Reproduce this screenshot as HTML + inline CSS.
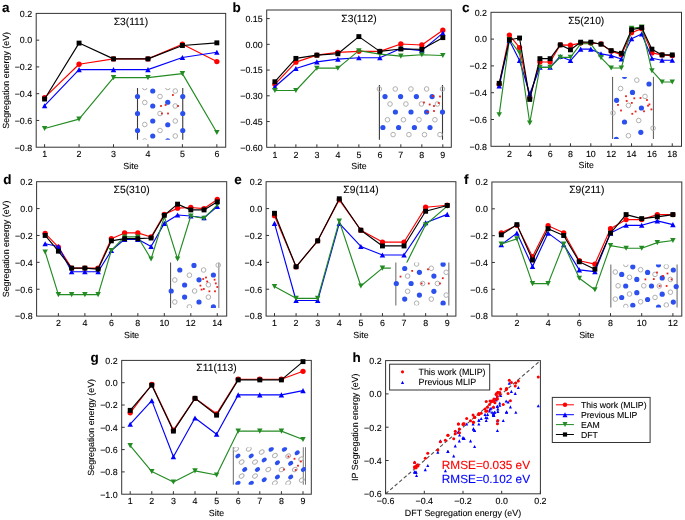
<!DOCTYPE html><html><head><meta charset="utf-8"><style>html,body{margin:0;padding:0;background:#fff;width:685px;height:520px;overflow:hidden;font-family:"Liberation Sans",sans-serif}</style></head><body><svg width="685" height="520" viewBox="0 0 685 520" style="position:absolute;left:0;top:0;will-change:transform" text-rendering="geometricPrecision" font-family='"Liberation Sans", sans-serif'>
<rect width="685" height="520" fill="#ffffff"/>
<text x="32.20" y="16.70" font-size="8.9" text-anchor="end" fill="#000" stroke="#000" stroke-width="0.1" font-weight="normal" >0.2</text>
<line x1="36.20" y1="40.16" x2="39.20" y2="40.16" stroke="#333333" stroke-width="1"/>
<text x="32.20" y="43.46" font-size="8.9" text-anchor="end" fill="#000" stroke="#000" stroke-width="0.1" font-weight="normal" >0.0</text>
<line x1="36.20" y1="66.92" x2="39.20" y2="66.92" stroke="#333333" stroke-width="1"/>
<text x="32.20" y="70.22" font-size="8.9" text-anchor="end" fill="#000" stroke="#000" stroke-width="0.1" font-weight="normal" >−0.2</text>
<line x1="36.20" y1="93.68" x2="39.20" y2="93.68" stroke="#333333" stroke-width="1"/>
<text x="32.20" y="96.98" font-size="8.9" text-anchor="end" fill="#000" stroke="#000" stroke-width="0.1" font-weight="normal" >−0.4</text>
<line x1="36.20" y1="120.44" x2="39.20" y2="120.44" stroke="#333333" stroke-width="1"/>
<text x="32.20" y="123.74" font-size="8.9" text-anchor="end" fill="#000" stroke="#000" stroke-width="0.1" font-weight="normal" >−0.6</text>
<text x="32.20" y="150.50" font-size="8.9" text-anchor="end" fill="#000" stroke="#000" stroke-width="0.1" font-weight="normal" >−0.8</text>
<line x1="44.60" y1="147.20" x2="44.60" y2="144.20" stroke="#333333" stroke-width="1"/>
<text x="44.60" y="157.40" font-size="8.9" text-anchor="middle" fill="#000" stroke="#000" stroke-width="0.1" font-weight="normal" >1</text>
<line x1="79.05" y1="147.20" x2="79.05" y2="144.20" stroke="#333333" stroke-width="1"/>
<text x="79.05" y="157.40" font-size="8.9" text-anchor="middle" fill="#000" stroke="#000" stroke-width="0.1" font-weight="normal" >2</text>
<line x1="113.50" y1="147.20" x2="113.50" y2="144.20" stroke="#333333" stroke-width="1"/>
<text x="113.50" y="157.40" font-size="8.9" text-anchor="middle" fill="#000" stroke="#000" stroke-width="0.1" font-weight="normal" >3</text>
<line x1="147.95" y1="147.20" x2="147.95" y2="144.20" stroke="#333333" stroke-width="1"/>
<text x="147.95" y="157.40" font-size="8.9" text-anchor="middle" fill="#000" stroke="#000" stroke-width="0.1" font-weight="normal" >4</text>
<line x1="182.40" y1="147.20" x2="182.40" y2="144.20" stroke="#333333" stroke-width="1"/>
<text x="182.40" y="157.40" font-size="8.9" text-anchor="middle" fill="#000" stroke="#000" stroke-width="0.1" font-weight="normal" >5</text>
<line x1="216.85" y1="147.20" x2="216.85" y2="144.20" stroke="#333333" stroke-width="1"/>
<text x="216.85" y="157.40" font-size="8.9" text-anchor="middle" fill="#000" stroke="#000" stroke-width="0.1" font-weight="normal" >6</text>
<rect x="36.20" y="13.40" width="189.50" height="133.80" fill="none" stroke="#333333" stroke-width="1"/>
<text x="130.95" y="24.60" font-size="10.3" text-anchor="middle" fill="#000" stroke="#000" stroke-width="0.1" font-weight="normal" >Σ3(111)</text>
<text x="8.90" y="80.30" font-size="8.9" stroke="#000" stroke-width="0.1" text-anchor="middle" transform="rotate(-90 8.90 80.30)">Segregation energy (eV)</text>
<text x="130.95" y="169.20" font-size="8.9" text-anchor="middle" fill="#000" stroke="#000" stroke-width="0.1" font-weight="normal" >Site</text>
<text x="2.00" y="12.20" font-size="13.5" text-anchor="start" fill="#000" stroke="#000" stroke-width="0.1" font-weight="bold" >a</text>
<polyline points="44.60,97.69 79.05,64.24 113.50,58.89 147.95,58.89 182.40,44.17 216.85,61.57" fill="none" stroke="#ff0000" stroke-width="1.15" stroke-linejoin="round"/>
<circle cx="44.60" cy="97.69" r="2.65" fill="#ff0000" stroke="none" stroke-width="0"/>
<circle cx="79.05" cy="64.24" r="2.65" fill="#ff0000" stroke="none" stroke-width="0"/>
<circle cx="113.50" cy="58.89" r="2.65" fill="#ff0000" stroke="none" stroke-width="0"/>
<circle cx="147.95" cy="58.89" r="2.65" fill="#ff0000" stroke="none" stroke-width="0"/>
<circle cx="182.40" cy="44.17" r="2.65" fill="#ff0000" stroke="none" stroke-width="0"/>
<circle cx="216.85" cy="61.57" r="2.65" fill="#ff0000" stroke="none" stroke-width="0"/>
<polyline points="44.60,105.72 79.05,69.60 113.50,69.60 147.95,69.60 182.40,57.55 216.85,52.20" fill="none" stroke="#0000ff" stroke-width="1.15" stroke-linejoin="round"/>
<polygon points="44.60,103.17 47.35,108.27 41.85,108.27" fill="#0000ff"/>
<polygon points="79.05,67.05 81.80,72.15 76.30,72.15" fill="#0000ff"/>
<polygon points="113.50,67.05 116.25,72.15 110.75,72.15" fill="#0000ff"/>
<polygon points="147.95,67.05 150.70,72.15 145.20,72.15" fill="#0000ff"/>
<polygon points="182.40,55.00 185.15,60.10 179.65,60.10" fill="#0000ff"/>
<polygon points="216.85,49.65 219.60,54.75 214.10,54.75" fill="#0000ff"/>
<polyline points="44.60,128.47 79.05,119.10 113.50,77.62 147.95,77.62 182.40,73.61 216.85,132.48" fill="none" stroke="#228b22" stroke-width="1.15" stroke-linejoin="round"/>
<polygon points="44.60,131.02 47.35,125.92 41.85,125.92" fill="#228b22"/>
<polygon points="79.05,121.65 81.80,116.55 76.30,116.55" fill="#228b22"/>
<polygon points="113.50,80.17 116.25,75.07 110.75,75.07" fill="#228b22"/>
<polygon points="147.95,80.17 150.70,75.07 145.20,75.07" fill="#228b22"/>
<polygon points="182.40,76.16 185.15,71.06 179.65,71.06" fill="#228b22"/>
<polygon points="216.85,135.03 219.60,129.93 214.10,129.93" fill="#228b22"/>
<polyline points="44.60,99.03 79.05,43.10 113.50,58.89 147.95,58.89 182.40,45.51 216.85,42.84" fill="none" stroke="#000000" stroke-width="1.15" stroke-linejoin="round"/>
<rect x="42.15" y="96.58" width="4.90" height="4.90" fill="#000000"/>
<rect x="76.60" y="40.65" width="4.90" height="4.90" fill="#000000"/>
<rect x="111.05" y="56.44" width="4.90" height="4.90" fill="#000000"/>
<rect x="145.50" y="56.44" width="4.90" height="4.90" fill="#000000"/>
<rect x="179.95" y="43.06" width="4.90" height="4.90" fill="#000000"/>
<rect x="214.40" y="40.39" width="4.90" height="4.90" fill="#000000"/>
<line x1="266.70" y1="18.58" x2="269.70" y2="18.58" stroke="#333333" stroke-width="1"/>
<text x="262.70" y="21.88" font-size="8.9" text-anchor="end" fill="#000" stroke="#000" stroke-width="0.1" font-weight="normal" >0.15</text>
<line x1="266.70" y1="44.33" x2="269.70" y2="44.33" stroke="#333333" stroke-width="1"/>
<text x="262.70" y="47.62" font-size="8.9" text-anchor="end" fill="#000" stroke="#000" stroke-width="0.1" font-weight="normal" >0.00</text>
<line x1="266.70" y1="70.07" x2="269.70" y2="70.07" stroke="#333333" stroke-width="1"/>
<text x="262.70" y="73.37" font-size="8.9" text-anchor="end" fill="#000" stroke="#000" stroke-width="0.1" font-weight="normal" >−0.15</text>
<line x1="266.70" y1="95.81" x2="269.70" y2="95.81" stroke="#333333" stroke-width="1"/>
<text x="262.70" y="99.11" font-size="8.9" text-anchor="end" fill="#000" stroke="#000" stroke-width="0.1" font-weight="normal" >−0.30</text>
<line x1="266.70" y1="121.56" x2="269.70" y2="121.56" stroke="#333333" stroke-width="1"/>
<text x="262.70" y="124.86" font-size="8.9" text-anchor="end" fill="#000" stroke="#000" stroke-width="0.1" font-weight="normal" >−0.45</text>
<text x="262.70" y="150.60" font-size="8.9" text-anchor="end" fill="#000" stroke="#000" stroke-width="0.1" font-weight="normal" >−0.60</text>
<line x1="274.90" y1="147.30" x2="274.90" y2="144.30" stroke="#333333" stroke-width="1"/>
<text x="274.90" y="157.50" font-size="8.9" text-anchor="middle" fill="#000" stroke="#000" stroke-width="0.1" font-weight="normal" >1</text>
<line x1="295.89" y1="147.30" x2="295.89" y2="144.30" stroke="#333333" stroke-width="1"/>
<text x="295.89" y="157.50" font-size="8.9" text-anchor="middle" fill="#000" stroke="#000" stroke-width="0.1" font-weight="normal" >2</text>
<line x1="316.88" y1="147.30" x2="316.88" y2="144.30" stroke="#333333" stroke-width="1"/>
<text x="316.88" y="157.50" font-size="8.9" text-anchor="middle" fill="#000" stroke="#000" stroke-width="0.1" font-weight="normal" >3</text>
<line x1="337.87" y1="147.30" x2="337.87" y2="144.30" stroke="#333333" stroke-width="1"/>
<text x="337.87" y="157.50" font-size="8.9" text-anchor="middle" fill="#000" stroke="#000" stroke-width="0.1" font-weight="normal" >4</text>
<line x1="358.86" y1="147.30" x2="358.86" y2="144.30" stroke="#333333" stroke-width="1"/>
<text x="358.86" y="157.50" font-size="8.9" text-anchor="middle" fill="#000" stroke="#000" stroke-width="0.1" font-weight="normal" >5</text>
<line x1="379.85" y1="147.30" x2="379.85" y2="144.30" stroke="#333333" stroke-width="1"/>
<text x="379.85" y="157.50" font-size="8.9" text-anchor="middle" fill="#000" stroke="#000" stroke-width="0.1" font-weight="normal" >6</text>
<line x1="400.84" y1="147.30" x2="400.84" y2="144.30" stroke="#333333" stroke-width="1"/>
<text x="400.84" y="157.50" font-size="8.9" text-anchor="middle" fill="#000" stroke="#000" stroke-width="0.1" font-weight="normal" >7</text>
<line x1="421.83" y1="147.30" x2="421.83" y2="144.30" stroke="#333333" stroke-width="1"/>
<text x="421.83" y="157.50" font-size="8.9" text-anchor="middle" fill="#000" stroke="#000" stroke-width="0.1" font-weight="normal" >8</text>
<line x1="442.82" y1="147.30" x2="442.82" y2="144.30" stroke="#333333" stroke-width="1"/>
<text x="442.82" y="157.50" font-size="8.9" text-anchor="middle" fill="#000" stroke="#000" stroke-width="0.1" font-weight="normal" >9</text>
<rect x="266.70" y="10.00" width="184.60" height="137.30" fill="none" stroke="#333333" stroke-width="1"/>
<text x="359.00" y="21.50" font-size="10.3" text-anchor="middle" fill="#000" stroke="#000" stroke-width="0.1" font-weight="normal" >Σ3(112)</text>
<text x="359.00" y="169.30" font-size="8.9" text-anchor="middle" fill="#000" stroke="#000" stroke-width="0.1" font-weight="normal" >Site</text>
<text x="232.60" y="11.90" font-size="13.5" text-anchor="start" fill="#000" stroke="#000" stroke-width="0.1" font-weight="bold" >b</text>
<polyline points="274.90,84.31 295.89,62.17 316.88,55.14 337.87,52.39 358.86,51.36 379.85,51.36 400.84,43.98 421.83,45.01 442.82,30.25" fill="none" stroke="#ff0000" stroke-width="1.15" stroke-linejoin="round"/>
<circle cx="274.90" cy="84.31" r="2.65" fill="#ff0000" stroke="none" stroke-width="0"/>
<circle cx="295.89" cy="62.17" r="2.65" fill="#ff0000" stroke="none" stroke-width="0"/>
<circle cx="316.88" cy="55.14" r="2.65" fill="#ff0000" stroke="none" stroke-width="0"/>
<circle cx="337.87" cy="52.39" r="2.65" fill="#ff0000" stroke="none" stroke-width="0"/>
<circle cx="358.86" cy="51.36" r="2.65" fill="#ff0000" stroke="none" stroke-width="0"/>
<circle cx="379.85" cy="51.36" r="2.65" fill="#ff0000" stroke="none" stroke-width="0"/>
<circle cx="400.84" cy="43.98" r="2.65" fill="#ff0000" stroke="none" stroke-width="0"/>
<circle cx="421.83" cy="45.01" r="2.65" fill="#ff0000" stroke="none" stroke-width="0"/>
<circle cx="442.82" cy="30.25" r="2.65" fill="#ff0000" stroke="none" stroke-width="0"/>
<polyline points="274.90,86.72 295.89,68.52 316.88,61.83 337.87,59.08 358.86,57.71 379.85,57.71 400.84,48.44 421.83,50.68 442.82,33.17" fill="none" stroke="#0000ff" stroke-width="1.15" stroke-linejoin="round"/>
<polygon points="274.90,84.17 277.65,89.27 272.15,89.27" fill="#0000ff"/>
<polygon points="295.89,65.97 298.64,71.07 293.14,71.07" fill="#0000ff"/>
<polygon points="316.88,59.28 319.63,64.38 314.13,64.38" fill="#0000ff"/>
<polygon points="337.87,56.53 340.62,61.63 335.12,61.63" fill="#0000ff"/>
<polygon points="358.86,55.16 361.61,60.26 356.11,60.26" fill="#0000ff"/>
<polygon points="379.85,55.16 382.60,60.26 377.10,60.26" fill="#0000ff"/>
<polygon points="400.84,45.89 403.59,50.99 398.09,50.99" fill="#0000ff"/>
<polygon points="421.83,48.13 424.58,53.23 419.08,53.23" fill="#0000ff"/>
<polygon points="442.82,30.62 445.57,35.72 440.07,35.72" fill="#0000ff"/>
<polyline points="274.90,90.49 295.89,90.49 316.88,68.18 337.87,68.18 358.86,50.68 379.85,54.11 400.84,56.17 421.83,54.79 442.82,55.48" fill="none" stroke="#228b22" stroke-width="1.15" stroke-linejoin="round"/>
<polygon points="274.90,93.04 277.65,87.94 272.15,87.94" fill="#228b22"/>
<polygon points="295.89,93.04 298.64,87.94 293.14,87.94" fill="#228b22"/>
<polygon points="316.88,70.73 319.63,65.63 314.13,65.63" fill="#228b22"/>
<polygon points="337.87,70.73 340.62,65.63 335.12,65.63" fill="#228b22"/>
<polygon points="358.86,53.23 361.61,48.13 356.11,48.13" fill="#228b22"/>
<polygon points="379.85,56.66 382.60,51.56 377.10,51.56" fill="#228b22"/>
<polygon points="400.84,58.72 403.59,53.62 398.09,53.62" fill="#228b22"/>
<polygon points="421.83,57.34 424.58,52.24 419.08,52.24" fill="#228b22"/>
<polygon points="442.82,58.03 445.57,52.93 440.07,52.93" fill="#228b22"/>
<polyline points="274.90,81.74 295.89,58.40 316.88,55.14 337.87,53.76 358.86,36.60 379.85,51.36 400.84,48.96 421.83,49.30 442.82,37.63" fill="none" stroke="#000000" stroke-width="1.15" stroke-linejoin="round"/>
<rect x="272.45" y="79.29" width="4.90" height="4.90" fill="#000000"/>
<rect x="293.44" y="55.95" width="4.90" height="4.90" fill="#000000"/>
<rect x="314.43" y="52.69" width="4.90" height="4.90" fill="#000000"/>
<rect x="335.42" y="51.31" width="4.90" height="4.90" fill="#000000"/>
<rect x="356.41" y="34.15" width="4.90" height="4.90" fill="#000000"/>
<rect x="377.40" y="48.91" width="4.90" height="4.90" fill="#000000"/>
<rect x="398.39" y="46.51" width="4.90" height="4.90" fill="#000000"/>
<rect x="419.38" y="46.85" width="4.90" height="4.90" fill="#000000"/>
<rect x="440.37" y="35.18" width="4.90" height="4.90" fill="#000000"/>
<text x="487.00" y="15.60" font-size="8.9" text-anchor="end" fill="#000" stroke="#000" stroke-width="0.1" font-weight="normal" >0.2</text>
<line x1="491.00" y1="39.10" x2="494.00" y2="39.10" stroke="#333333" stroke-width="1"/>
<text x="487.00" y="42.40" font-size="8.9" text-anchor="end" fill="#000" stroke="#000" stroke-width="0.1" font-weight="normal" >0.0</text>
<line x1="491.00" y1="65.90" x2="494.00" y2="65.90" stroke="#333333" stroke-width="1"/>
<text x="487.00" y="69.20" font-size="8.9" text-anchor="end" fill="#000" stroke="#000" stroke-width="0.1" font-weight="normal" >−0.2</text>
<line x1="491.00" y1="92.70" x2="494.00" y2="92.70" stroke="#333333" stroke-width="1"/>
<text x="487.00" y="96.00" font-size="8.9" text-anchor="end" fill="#000" stroke="#000" stroke-width="0.1" font-weight="normal" >−0.4</text>
<line x1="491.00" y1="119.50" x2="494.00" y2="119.50" stroke="#333333" stroke-width="1"/>
<text x="487.00" y="122.80" font-size="8.9" text-anchor="end" fill="#000" stroke="#000" stroke-width="0.1" font-weight="normal" >−0.6</text>
<text x="487.00" y="149.60" font-size="8.9" text-anchor="end" fill="#000" stroke="#000" stroke-width="0.1" font-weight="normal" >−0.8</text>
<line x1="509.38" y1="146.30" x2="509.38" y2="143.30" stroke="#333333" stroke-width="1"/>
<text x="509.38" y="156.50" font-size="8.9" text-anchor="middle" fill="#000" stroke="#000" stroke-width="0.1" font-weight="normal" >2</text>
<line x1="529.74" y1="146.30" x2="529.74" y2="143.30" stroke="#333333" stroke-width="1"/>
<text x="529.74" y="156.50" font-size="8.9" text-anchor="middle" fill="#000" stroke="#000" stroke-width="0.1" font-weight="normal" >4</text>
<line x1="550.10" y1="146.30" x2="550.10" y2="143.30" stroke="#333333" stroke-width="1"/>
<text x="550.10" y="156.50" font-size="8.9" text-anchor="middle" fill="#000" stroke="#000" stroke-width="0.1" font-weight="normal" >6</text>
<line x1="570.46" y1="146.30" x2="570.46" y2="143.30" stroke="#333333" stroke-width="1"/>
<text x="570.46" y="156.50" font-size="8.9" text-anchor="middle" fill="#000" stroke="#000" stroke-width="0.1" font-weight="normal" >8</text>
<line x1="590.82" y1="146.30" x2="590.82" y2="143.30" stroke="#333333" stroke-width="1"/>
<text x="590.82" y="156.50" font-size="8.9" text-anchor="middle" fill="#000" stroke="#000" stroke-width="0.1" font-weight="normal" >10</text>
<line x1="611.18" y1="146.30" x2="611.18" y2="143.30" stroke="#333333" stroke-width="1"/>
<text x="611.18" y="156.50" font-size="8.9" text-anchor="middle" fill="#000" stroke="#000" stroke-width="0.1" font-weight="normal" >12</text>
<line x1="631.54" y1="146.30" x2="631.54" y2="143.30" stroke="#333333" stroke-width="1"/>
<text x="631.54" y="156.50" font-size="8.9" text-anchor="middle" fill="#000" stroke="#000" stroke-width="0.1" font-weight="normal" >14</text>
<line x1="651.90" y1="146.30" x2="651.90" y2="143.30" stroke="#333333" stroke-width="1"/>
<text x="651.90" y="156.50" font-size="8.9" text-anchor="middle" fill="#000" stroke="#000" stroke-width="0.1" font-weight="normal" >16</text>
<line x1="672.26" y1="146.30" x2="672.26" y2="143.30" stroke="#333333" stroke-width="1"/>
<text x="672.26" y="156.50" font-size="8.9" text-anchor="middle" fill="#000" stroke="#000" stroke-width="0.1" font-weight="normal" >18</text>
<rect x="491.00" y="12.30" width="190.50" height="134.00" fill="none" stroke="#333333" stroke-width="1"/>
<text x="586.25" y="23.50" font-size="10.3" text-anchor="middle" fill="#000" stroke="#000" stroke-width="0.1" font-weight="normal" >Σ5(210)</text>
<text x="586.25" y="168.30" font-size="8.9" text-anchor="middle" fill="#000" stroke="#000" stroke-width="0.1" font-weight="normal" >Site</text>
<text x="462.00" y="11.90" font-size="13.5" text-anchor="start" fill="#000" stroke="#000" stroke-width="0.1" font-weight="bold" >c</text>
<polyline points="499.20,84.26 509.38,35.08 519.56,47.54 529.74,97.79 539.92,62.01 550.10,62.01 560.28,44.86 570.46,45.13 580.64,43.12 590.82,43.12 601.00,43.79 611.18,51.16 621.36,54.64 631.54,32.67 641.72,28.65 651.90,52.90 662.08,54.91 672.26,55.58" fill="none" stroke="#ff0000" stroke-width="1.15" stroke-linejoin="round"/>
<circle cx="499.20" cy="84.26" r="2.65" fill="#ff0000" stroke="none" stroke-width="0"/>
<circle cx="509.38" cy="35.08" r="2.65" fill="#ff0000" stroke="none" stroke-width="0"/>
<circle cx="519.56" cy="47.54" r="2.65" fill="#ff0000" stroke="none" stroke-width="0"/>
<circle cx="529.74" cy="97.79" r="2.65" fill="#ff0000" stroke="none" stroke-width="0"/>
<circle cx="539.92" cy="62.01" r="2.65" fill="#ff0000" stroke="none" stroke-width="0"/>
<circle cx="550.10" cy="62.01" r="2.65" fill="#ff0000" stroke="none" stroke-width="0"/>
<circle cx="560.28" cy="44.86" r="2.65" fill="#ff0000" stroke="none" stroke-width="0"/>
<circle cx="570.46" cy="45.13" r="2.65" fill="#ff0000" stroke="none" stroke-width="0"/>
<circle cx="580.64" cy="43.12" r="2.65" fill="#ff0000" stroke="none" stroke-width="0"/>
<circle cx="590.82" cy="43.12" r="2.65" fill="#ff0000" stroke="none" stroke-width="0"/>
<circle cx="601.00" cy="43.79" r="2.65" fill="#ff0000" stroke="none" stroke-width="0"/>
<circle cx="611.18" cy="51.16" r="2.65" fill="#ff0000" stroke="none" stroke-width="0"/>
<circle cx="621.36" cy="54.64" r="2.65" fill="#ff0000" stroke="none" stroke-width="0"/>
<circle cx="631.54" cy="32.67" r="2.65" fill="#ff0000" stroke="none" stroke-width="0"/>
<circle cx="641.72" cy="28.65" r="2.65" fill="#ff0000" stroke="none" stroke-width="0"/>
<circle cx="651.90" cy="52.90" r="2.65" fill="#ff0000" stroke="none" stroke-width="0"/>
<circle cx="662.08" cy="54.91" r="2.65" fill="#ff0000" stroke="none" stroke-width="0"/>
<circle cx="672.26" cy="55.58" r="2.65" fill="#ff0000" stroke="none" stroke-width="0"/>
<polyline points="499.20,86.00 509.38,40.44 519.56,60.54 529.74,94.04 539.92,67.24 550.10,67.24 560.28,56.52 570.46,60.54 580.64,49.15 590.82,49.15 601.00,53.84 611.18,55.58 621.36,58.93 631.54,38.70 641.72,34.01 651.90,58.26 662.08,60.27 672.26,60.27" fill="none" stroke="#0000ff" stroke-width="1.15" stroke-linejoin="round"/>
<polygon points="499.20,83.45 501.95,88.55 496.45,88.55" fill="#0000ff"/>
<polygon points="509.38,37.89 512.13,42.99 506.63,42.99" fill="#0000ff"/>
<polygon points="519.56,57.99 522.31,63.09 516.81,63.09" fill="#0000ff"/>
<polygon points="529.74,91.49 532.49,96.59 526.99,96.59" fill="#0000ff"/>
<polygon points="539.92,64.69 542.67,69.79 537.17,69.79" fill="#0000ff"/>
<polygon points="550.10,64.69 552.85,69.79 547.35,69.79" fill="#0000ff"/>
<polygon points="560.28,53.97 563.03,59.07 557.53,59.07" fill="#0000ff"/>
<polygon points="570.46,57.99 573.21,63.09 567.71,63.09" fill="#0000ff"/>
<polygon points="580.64,46.60 583.39,51.70 577.89,51.70" fill="#0000ff"/>
<polygon points="590.82,46.60 593.57,51.70 588.07,51.70" fill="#0000ff"/>
<polygon points="601.00,51.29 603.75,56.39 598.25,56.39" fill="#0000ff"/>
<polygon points="611.18,53.03 613.93,58.13 608.43,58.13" fill="#0000ff"/>
<polygon points="621.36,56.38 624.11,61.48 618.61,61.48" fill="#0000ff"/>
<polygon points="631.54,36.15 634.29,41.25 628.79,41.25" fill="#0000ff"/>
<polygon points="641.72,31.46 644.47,36.56 638.97,36.56" fill="#0000ff"/>
<polygon points="651.90,55.71 654.65,60.81 649.15,60.81" fill="#0000ff"/>
<polygon points="662.08,57.72 664.83,62.82 659.33,62.82" fill="#0000ff"/>
<polygon points="672.26,57.72 675.01,62.82 669.51,62.82" fill="#0000ff"/>
<polyline points="499.20,114.68 509.38,39.77 519.56,52.90 529.74,122.98 539.92,67.37 550.10,67.37 560.28,57.32 570.46,57.32 580.64,43.79 590.82,43.79 601.00,57.59 611.18,68.04 621.36,68.04 631.54,28.38 641.72,27.04 651.90,70.72 662.08,81.98 672.26,81.98" fill="none" stroke="#228b22" stroke-width="1.15" stroke-linejoin="round"/>
<polygon points="499.20,117.23 501.95,112.13 496.45,112.13" fill="#228b22"/>
<polygon points="509.38,42.32 512.13,37.22 506.63,37.22" fill="#228b22"/>
<polygon points="519.56,55.45 522.31,50.35 516.81,50.35" fill="#228b22"/>
<polygon points="529.74,125.53 532.49,120.43 526.99,120.43" fill="#228b22"/>
<polygon points="539.92,69.92 542.67,64.82 537.17,64.82" fill="#228b22"/>
<polygon points="550.10,69.92 552.85,64.82 547.35,64.82" fill="#228b22"/>
<polygon points="560.28,59.87 563.03,54.77 557.53,54.77" fill="#228b22"/>
<polygon points="570.46,59.87 573.21,54.77 567.71,54.77" fill="#228b22"/>
<polygon points="580.64,46.34 583.39,41.24 577.89,41.24" fill="#228b22"/>
<polygon points="590.82,46.34 593.57,41.24 588.07,41.24" fill="#228b22"/>
<polygon points="601.00,60.14 603.75,55.04 598.25,55.04" fill="#228b22"/>
<polygon points="611.18,70.59 613.93,65.49 608.43,65.49" fill="#228b22"/>
<polygon points="621.36,70.59 624.11,65.49 618.61,65.49" fill="#228b22"/>
<polygon points="631.54,30.93 634.29,25.83 628.79,25.83" fill="#228b22"/>
<polygon points="641.72,29.59 644.47,24.49 638.97,24.49" fill="#228b22"/>
<polygon points="651.90,73.27 654.65,68.17 649.15,68.17" fill="#228b22"/>
<polygon points="662.08,84.53 664.83,79.43 659.33,79.43" fill="#228b22"/>
<polygon points="672.26,84.53 675.01,79.43 669.51,79.43" fill="#228b22"/>
<polyline points="499.20,83.32 509.38,39.77 519.56,38.03 529.74,99.40 539.92,58.66 550.10,58.66 560.28,44.86 570.46,49.82 580.64,42.18 590.82,42.18 601.00,44.19 611.18,50.62 621.36,53.30 631.54,29.72 641.72,27.58 651.90,49.15 662.08,54.91 672.26,54.91" fill="none" stroke="#000000" stroke-width="1.15" stroke-linejoin="round"/>
<rect x="496.75" y="80.87" width="4.90" height="4.90" fill="#000000"/>
<rect x="506.93" y="37.32" width="4.90" height="4.90" fill="#000000"/>
<rect x="517.11" y="35.58" width="4.90" height="4.90" fill="#000000"/>
<rect x="527.29" y="96.95" width="4.90" height="4.90" fill="#000000"/>
<rect x="537.47" y="56.21" width="4.90" height="4.90" fill="#000000"/>
<rect x="547.65" y="56.21" width="4.90" height="4.90" fill="#000000"/>
<rect x="557.83" y="42.41" width="4.90" height="4.90" fill="#000000"/>
<rect x="568.01" y="47.37" width="4.90" height="4.90" fill="#000000"/>
<rect x="578.19" y="39.73" width="4.90" height="4.90" fill="#000000"/>
<rect x="588.37" y="39.73" width="4.90" height="4.90" fill="#000000"/>
<rect x="598.55" y="41.74" width="4.90" height="4.90" fill="#000000"/>
<rect x="608.73" y="48.17" width="4.90" height="4.90" fill="#000000"/>
<rect x="618.91" y="50.85" width="4.90" height="4.90" fill="#000000"/>
<rect x="629.09" y="27.27" width="4.90" height="4.90" fill="#000000"/>
<rect x="639.27" y="25.13" width="4.90" height="4.90" fill="#000000"/>
<rect x="649.45" y="46.70" width="4.90" height="4.90" fill="#000000"/>
<rect x="659.63" y="52.46" width="4.90" height="4.90" fill="#000000"/>
<rect x="669.81" y="52.46" width="4.90" height="4.90" fill="#000000"/>
<text x="32.60" y="185.00" font-size="8.9" text-anchor="end" fill="#000" stroke="#000" stroke-width="0.1" font-weight="normal" >0.2</text>
<line x1="36.60" y1="208.58" x2="39.60" y2="208.58" stroke="#333333" stroke-width="1"/>
<text x="32.60" y="211.88" font-size="8.9" text-anchor="end" fill="#000" stroke="#000" stroke-width="0.1" font-weight="normal" >0.0</text>
<line x1="36.60" y1="235.46" x2="39.60" y2="235.46" stroke="#333333" stroke-width="1"/>
<text x="32.60" y="238.76" font-size="8.9" text-anchor="end" fill="#000" stroke="#000" stroke-width="0.1" font-weight="normal" >−0.2</text>
<line x1="36.60" y1="262.34" x2="39.60" y2="262.34" stroke="#333333" stroke-width="1"/>
<text x="32.60" y="265.64" font-size="8.9" text-anchor="end" fill="#000" stroke="#000" stroke-width="0.1" font-weight="normal" >−0.4</text>
<line x1="36.60" y1="289.22" x2="39.60" y2="289.22" stroke="#333333" stroke-width="1"/>
<text x="32.60" y="292.52" font-size="8.9" text-anchor="end" fill="#000" stroke="#000" stroke-width="0.1" font-weight="normal" >−0.6</text>
<text x="32.60" y="319.40" font-size="8.9" text-anchor="end" fill="#000" stroke="#000" stroke-width="0.1" font-weight="normal" >−0.8</text>
<line x1="58.40" y1="316.10" x2="58.40" y2="313.10" stroke="#333333" stroke-width="1"/>
<text x="58.40" y="326.30" font-size="8.9" text-anchor="middle" fill="#000" stroke="#000" stroke-width="0.1" font-weight="normal" >2</text>
<line x1="84.88" y1="316.10" x2="84.88" y2="313.10" stroke="#333333" stroke-width="1"/>
<text x="84.88" y="326.30" font-size="8.9" text-anchor="middle" fill="#000" stroke="#000" stroke-width="0.1" font-weight="normal" >4</text>
<line x1="111.36" y1="316.10" x2="111.36" y2="313.10" stroke="#333333" stroke-width="1"/>
<text x="111.36" y="326.30" font-size="8.9" text-anchor="middle" fill="#000" stroke="#000" stroke-width="0.1" font-weight="normal" >6</text>
<line x1="137.84" y1="316.10" x2="137.84" y2="313.10" stroke="#333333" stroke-width="1"/>
<text x="137.84" y="326.30" font-size="8.9" text-anchor="middle" fill="#000" stroke="#000" stroke-width="0.1" font-weight="normal" >8</text>
<line x1="164.32" y1="316.10" x2="164.32" y2="313.10" stroke="#333333" stroke-width="1"/>
<text x="164.32" y="326.30" font-size="8.9" text-anchor="middle" fill="#000" stroke="#000" stroke-width="0.1" font-weight="normal" >10</text>
<line x1="190.80" y1="316.10" x2="190.80" y2="313.10" stroke="#333333" stroke-width="1"/>
<text x="190.80" y="326.30" font-size="8.9" text-anchor="middle" fill="#000" stroke="#000" stroke-width="0.1" font-weight="normal" >12</text>
<line x1="217.28" y1="316.10" x2="217.28" y2="313.10" stroke="#333333" stroke-width="1"/>
<text x="217.28" y="326.30" font-size="8.9" text-anchor="middle" fill="#000" stroke="#000" stroke-width="0.1" font-weight="normal" >14</text>
<rect x="36.60" y="181.70" width="190.10" height="134.40" fill="none" stroke="#333333" stroke-width="1"/>
<text x="131.65" y="193.00" font-size="10.3" text-anchor="middle" fill="#000" stroke="#000" stroke-width="0.1" font-weight="normal" >Σ5(310)</text>
<text x="8.90" y="248.90" font-size="8.9" stroke="#000" stroke-width="0.1" text-anchor="middle" transform="rotate(-90 8.90 248.90)">Segregation energy (eV)</text>
<text x="131.65" y="338.10" font-size="8.9" text-anchor="middle" fill="#000" stroke="#000" stroke-width="0.1" font-weight="normal" >Site</text>
<text x="3.30" y="183.80" font-size="13.5" text-anchor="start" fill="#000" stroke="#000" stroke-width="0.1" font-weight="bold" >d</text>
<polyline points="45.16,233.31 58.40,247.15 71.64,268.12 84.88,268.12 98.12,268.12 111.36,238.69 124.60,232.91 137.84,232.91 151.08,236.94 164.32,214.36 177.56,208.18 190.80,207.50 204.04,208.58 217.28,199.44" fill="none" stroke="#ff0000" stroke-width="1.15" stroke-linejoin="round"/>
<circle cx="45.16" cy="233.31" r="2.65" fill="#ff0000" stroke="none" stroke-width="0"/>
<circle cx="58.40" cy="247.15" r="2.65" fill="#ff0000" stroke="none" stroke-width="0"/>
<circle cx="71.64" cy="268.12" r="2.65" fill="#ff0000" stroke="none" stroke-width="0"/>
<circle cx="84.88" cy="268.12" r="2.65" fill="#ff0000" stroke="none" stroke-width="0"/>
<circle cx="98.12" cy="268.12" r="2.65" fill="#ff0000" stroke="none" stroke-width="0"/>
<circle cx="111.36" cy="238.69" r="2.65" fill="#ff0000" stroke="none" stroke-width="0"/>
<circle cx="124.60" cy="232.91" r="2.65" fill="#ff0000" stroke="none" stroke-width="0"/>
<circle cx="137.84" cy="232.91" r="2.65" fill="#ff0000" stroke="none" stroke-width="0"/>
<circle cx="151.08" cy="236.94" r="2.65" fill="#ff0000" stroke="none" stroke-width="0"/>
<circle cx="164.32" cy="214.36" r="2.65" fill="#ff0000" stroke="none" stroke-width="0"/>
<circle cx="177.56" cy="208.18" r="2.65" fill="#ff0000" stroke="none" stroke-width="0"/>
<circle cx="190.80" cy="207.50" r="2.65" fill="#ff0000" stroke="none" stroke-width="0"/>
<circle cx="204.04" cy="208.58" r="2.65" fill="#ff0000" stroke="none" stroke-width="0"/>
<circle cx="217.28" cy="199.44" r="2.65" fill="#ff0000" stroke="none" stroke-width="0"/>
<polyline points="45.16,243.79 58.40,246.48 71.64,271.75 84.88,271.75 98.12,271.75 111.36,250.51 124.60,239.36 137.84,239.36 151.08,246.48 164.32,223.36 177.56,215.03 190.80,215.97 204.04,217.72 217.28,206.56" fill="none" stroke="#0000ff" stroke-width="1.15" stroke-linejoin="round"/>
<polygon points="45.16,241.24 47.91,246.34 42.41,246.34" fill="#0000ff"/>
<polygon points="58.40,243.93 61.15,249.03 55.65,249.03" fill="#0000ff"/>
<polygon points="71.64,269.20 74.39,274.30 68.89,274.30" fill="#0000ff"/>
<polygon points="84.88,269.20 87.63,274.30 82.13,274.30" fill="#0000ff"/>
<polygon points="98.12,269.20 100.87,274.30 95.37,274.30" fill="#0000ff"/>
<polygon points="111.36,247.96 114.11,253.06 108.61,253.06" fill="#0000ff"/>
<polygon points="124.60,236.81 127.35,241.91 121.85,241.91" fill="#0000ff"/>
<polygon points="137.84,236.81 140.59,241.91 135.09,241.91" fill="#0000ff"/>
<polygon points="151.08,243.93 153.83,249.03 148.33,249.03" fill="#0000ff"/>
<polygon points="164.32,220.81 167.07,225.91 161.57,225.91" fill="#0000ff"/>
<polygon points="177.56,212.48 180.31,217.58 174.81,217.58" fill="#0000ff"/>
<polygon points="190.80,213.42 193.55,218.52 188.05,218.52" fill="#0000ff"/>
<polygon points="204.04,215.17 206.79,220.27 201.29,220.27" fill="#0000ff"/>
<polygon points="217.28,204.01 220.03,209.11 214.53,209.11" fill="#0000ff"/>
<polyline points="45.16,251.99 58.40,294.60 71.64,294.60 84.88,294.60 98.12,294.60 111.36,250.51 124.60,236.94 137.84,236.94 151.08,258.98 164.32,216.64 177.56,258.98 190.80,215.97 204.04,218.39 217.28,204.82" fill="none" stroke="#228b22" stroke-width="1.15" stroke-linejoin="round"/>
<polygon points="45.16,254.54 47.91,249.44 42.41,249.44" fill="#228b22"/>
<polygon points="58.40,297.15 61.15,292.05 55.65,292.05" fill="#228b22"/>
<polygon points="71.64,297.15 74.39,292.05 68.89,292.05" fill="#228b22"/>
<polygon points="84.88,297.15 87.63,292.05 82.13,292.05" fill="#228b22"/>
<polygon points="98.12,297.15 100.87,292.05 95.37,292.05" fill="#228b22"/>
<polygon points="111.36,253.06 114.11,247.96 108.61,247.96" fill="#228b22"/>
<polygon points="124.60,239.49 127.35,234.39 121.85,234.39" fill="#228b22"/>
<polygon points="137.84,239.49 140.59,234.39 135.09,234.39" fill="#228b22"/>
<polygon points="151.08,261.53 153.83,256.43 148.33,256.43" fill="#228b22"/>
<polygon points="164.32,219.19 167.07,214.09 161.57,214.09" fill="#228b22"/>
<polygon points="177.56,261.53 180.31,256.43 174.81,256.43" fill="#228b22"/>
<polygon points="190.80,218.52 193.55,213.42 188.05,213.42" fill="#228b22"/>
<polygon points="204.04,220.94 206.79,215.84 201.29,215.84" fill="#228b22"/>
<polygon points="217.28,207.37 220.03,202.27 214.53,202.27" fill="#228b22"/>
<polyline points="45.16,235.46 58.40,251.18 71.64,268.12 84.88,268.12 98.12,269.06 111.36,240.84 124.60,238.69 137.84,238.69 151.08,238.01 164.32,215.30 177.56,204.14 190.80,209.92 204.04,209.92 217.28,201.86" fill="none" stroke="#000000" stroke-width="1.15" stroke-linejoin="round"/>
<rect x="42.71" y="233.01" width="4.90" height="4.90" fill="#000000"/>
<rect x="55.95" y="248.73" width="4.90" height="4.90" fill="#000000"/>
<rect x="69.19" y="265.67" width="4.90" height="4.90" fill="#000000"/>
<rect x="82.43" y="265.67" width="4.90" height="4.90" fill="#000000"/>
<rect x="95.67" y="266.61" width="4.90" height="4.90" fill="#000000"/>
<rect x="108.91" y="238.39" width="4.90" height="4.90" fill="#000000"/>
<rect x="122.15" y="236.24" width="4.90" height="4.90" fill="#000000"/>
<rect x="135.39" y="236.24" width="4.90" height="4.90" fill="#000000"/>
<rect x="148.63" y="235.56" width="4.90" height="4.90" fill="#000000"/>
<rect x="161.87" y="212.85" width="4.90" height="4.90" fill="#000000"/>
<rect x="175.11" y="201.69" width="4.90" height="4.90" fill="#000000"/>
<rect x="188.35" y="207.47" width="4.90" height="4.90" fill="#000000"/>
<rect x="201.59" y="207.47" width="4.90" height="4.90" fill="#000000"/>
<rect x="214.83" y="199.41" width="4.90" height="4.90" fill="#000000"/>
<text x="262.10" y="185.00" font-size="8.9" text-anchor="end" fill="#000" stroke="#000" stroke-width="0.1" font-weight="normal" >0.2</text>
<line x1="266.10" y1="208.58" x2="269.10" y2="208.58" stroke="#333333" stroke-width="1"/>
<text x="262.10" y="211.88" font-size="8.9" text-anchor="end" fill="#000" stroke="#000" stroke-width="0.1" font-weight="normal" >0.0</text>
<line x1="266.10" y1="235.46" x2="269.10" y2="235.46" stroke="#333333" stroke-width="1"/>
<text x="262.10" y="238.76" font-size="8.9" text-anchor="end" fill="#000" stroke="#000" stroke-width="0.1" font-weight="normal" >−0.2</text>
<line x1="266.10" y1="262.34" x2="269.10" y2="262.34" stroke="#333333" stroke-width="1"/>
<text x="262.10" y="265.64" font-size="8.9" text-anchor="end" fill="#000" stroke="#000" stroke-width="0.1" font-weight="normal" >−0.4</text>
<line x1="266.10" y1="289.22" x2="269.10" y2="289.22" stroke="#333333" stroke-width="1"/>
<text x="262.10" y="292.52" font-size="8.9" text-anchor="end" fill="#000" stroke="#000" stroke-width="0.1" font-weight="normal" >−0.6</text>
<text x="262.10" y="319.40" font-size="8.9" text-anchor="end" fill="#000" stroke="#000" stroke-width="0.1" font-weight="normal" >−0.8</text>
<line x1="274.50" y1="316.10" x2="274.50" y2="313.10" stroke="#333333" stroke-width="1"/>
<text x="274.50" y="326.30" font-size="8.9" text-anchor="middle" fill="#000" stroke="#000" stroke-width="0.1" font-weight="normal" >1</text>
<line x1="296.09" y1="316.10" x2="296.09" y2="313.10" stroke="#333333" stroke-width="1"/>
<text x="296.09" y="326.30" font-size="8.9" text-anchor="middle" fill="#000" stroke="#000" stroke-width="0.1" font-weight="normal" >2</text>
<line x1="317.68" y1="316.10" x2="317.68" y2="313.10" stroke="#333333" stroke-width="1"/>
<text x="317.68" y="326.30" font-size="8.9" text-anchor="middle" fill="#000" stroke="#000" stroke-width="0.1" font-weight="normal" >3</text>
<line x1="339.27" y1="316.10" x2="339.27" y2="313.10" stroke="#333333" stroke-width="1"/>
<text x="339.27" y="326.30" font-size="8.9" text-anchor="middle" fill="#000" stroke="#000" stroke-width="0.1" font-weight="normal" >4</text>
<line x1="360.86" y1="316.10" x2="360.86" y2="313.10" stroke="#333333" stroke-width="1"/>
<text x="360.86" y="326.30" font-size="8.9" text-anchor="middle" fill="#000" stroke="#000" stroke-width="0.1" font-weight="normal" >5</text>
<line x1="382.45" y1="316.10" x2="382.45" y2="313.10" stroke="#333333" stroke-width="1"/>
<text x="382.45" y="326.30" font-size="8.9" text-anchor="middle" fill="#000" stroke="#000" stroke-width="0.1" font-weight="normal" >6</text>
<line x1="404.04" y1="316.10" x2="404.04" y2="313.10" stroke="#333333" stroke-width="1"/>
<text x="404.04" y="326.30" font-size="8.9" text-anchor="middle" fill="#000" stroke="#000" stroke-width="0.1" font-weight="normal" >7</text>
<line x1="425.63" y1="316.10" x2="425.63" y2="313.10" stroke="#333333" stroke-width="1"/>
<text x="425.63" y="326.30" font-size="8.9" text-anchor="middle" fill="#000" stroke="#000" stroke-width="0.1" font-weight="normal" >8</text>
<line x1="447.22" y1="316.10" x2="447.22" y2="313.10" stroke="#333333" stroke-width="1"/>
<text x="447.22" y="326.30" font-size="8.9" text-anchor="middle" fill="#000" stroke="#000" stroke-width="0.1" font-weight="normal" >9</text>
<rect x="266.10" y="181.70" width="189.80" height="134.40" fill="none" stroke="#333333" stroke-width="1"/>
<text x="361.00" y="193.00" font-size="10.3" text-anchor="middle" fill="#000" stroke="#000" stroke-width="0.1" font-weight="normal" >Σ9(114)</text>
<text x="361.00" y="338.10" font-size="8.9" text-anchor="middle" fill="#000" stroke="#000" stroke-width="0.1" font-weight="normal" >Site</text>
<text x="234.20" y="184.00" font-size="13.5" text-anchor="start" fill="#000" stroke="#000" stroke-width="0.1" font-weight="bold" >e</text>
<polyline points="274.50,215.70 296.09,266.78 317.68,240.84 339.27,199.84 360.86,230.22 382.45,242.05 404.04,242.05 425.63,207.24 447.22,205.22" fill="none" stroke="#ff0000" stroke-width="1.15" stroke-linejoin="round"/>
<circle cx="274.50" cy="215.70" r="2.65" fill="#ff0000" stroke="none" stroke-width="0"/>
<circle cx="296.09" cy="266.78" r="2.65" fill="#ff0000" stroke="none" stroke-width="0"/>
<circle cx="317.68" cy="240.84" r="2.65" fill="#ff0000" stroke="none" stroke-width="0"/>
<circle cx="339.27" cy="199.84" r="2.65" fill="#ff0000" stroke="none" stroke-width="0"/>
<circle cx="360.86" cy="230.22" r="2.65" fill="#ff0000" stroke="none" stroke-width="0"/>
<circle cx="382.45" cy="242.05" r="2.65" fill="#ff0000" stroke="none" stroke-width="0"/>
<circle cx="404.04" cy="242.05" r="2.65" fill="#ff0000" stroke="none" stroke-width="0"/>
<circle cx="425.63" cy="207.24" r="2.65" fill="#ff0000" stroke="none" stroke-width="0"/>
<circle cx="447.22" cy="205.22" r="2.65" fill="#ff0000" stroke="none" stroke-width="0"/>
<polyline points="274.50,223.36 296.09,300.51 317.68,300.51 339.27,223.36 360.86,246.48 382.45,254.95 404.04,254.95 425.63,222.69 447.22,214.36" fill="none" stroke="#0000ff" stroke-width="1.15" stroke-linejoin="round"/>
<polygon points="274.50,220.81 277.25,225.91 271.75,225.91" fill="#0000ff"/>
<polygon points="296.09,297.96 298.84,303.06 293.34,303.06" fill="#0000ff"/>
<polygon points="317.68,297.96 320.43,303.06 314.93,303.06" fill="#0000ff"/>
<polygon points="339.27,220.81 342.02,225.91 336.52,225.91" fill="#0000ff"/>
<polygon points="360.86,243.93 363.61,249.03 358.11,249.03" fill="#0000ff"/>
<polygon points="382.45,252.40 385.20,257.50 379.70,257.50" fill="#0000ff"/>
<polygon points="404.04,252.40 406.79,257.50 401.29,257.50" fill="#0000ff"/>
<polygon points="425.63,220.14 428.38,225.24 422.88,225.24" fill="#0000ff"/>
<polygon points="447.22,211.81 449.97,216.91 444.47,216.91" fill="#0000ff"/>
<polyline points="274.50,286.53 296.09,298.36 317.68,298.36 339.27,221.08 360.86,285.99 382.45,268.12 404.04,268.12 425.63,224.71 447.22,206.16" fill="none" stroke="#228b22" stroke-width="1.15" stroke-linejoin="round"/>
<polygon points="274.50,289.08 277.25,283.98 271.75,283.98" fill="#228b22"/>
<polygon points="296.09,300.91 298.84,295.81 293.34,295.81" fill="#228b22"/>
<polygon points="317.68,300.91 320.43,295.81 314.93,295.81" fill="#228b22"/>
<polygon points="339.27,223.63 342.02,218.53 336.52,218.53" fill="#228b22"/>
<polygon points="360.86,288.54 363.61,283.44 358.11,283.44" fill="#228b22"/>
<polygon points="382.45,270.67 385.20,265.57 379.70,265.57" fill="#228b22"/>
<polygon points="404.04,270.67 406.79,265.57 401.29,265.57" fill="#228b22"/>
<polygon points="425.63,227.26 428.38,222.16 422.88,222.16" fill="#228b22"/>
<polygon points="447.22,208.71 449.97,203.61 444.47,203.61" fill="#228b22"/>
<polyline points="274.50,213.28 296.09,266.78 317.68,240.84 339.27,198.77 360.86,230.22 382.45,245.94 404.04,245.94 425.63,211.27 447.22,205.49" fill="none" stroke="#000000" stroke-width="1.15" stroke-linejoin="round"/>
<rect x="272.05" y="210.83" width="4.90" height="4.90" fill="#000000"/>
<rect x="293.64" y="264.33" width="4.90" height="4.90" fill="#000000"/>
<rect x="315.23" y="238.39" width="4.90" height="4.90" fill="#000000"/>
<rect x="336.82" y="196.32" width="4.90" height="4.90" fill="#000000"/>
<rect x="358.41" y="227.77" width="4.90" height="4.90" fill="#000000"/>
<rect x="380.00" y="243.49" width="4.90" height="4.90" fill="#000000"/>
<rect x="401.59" y="243.49" width="4.90" height="4.90" fill="#000000"/>
<rect x="423.18" y="208.82" width="4.90" height="4.90" fill="#000000"/>
<rect x="444.77" y="203.04" width="4.90" height="4.90" fill="#000000"/>
<text x="487.90" y="185.30" font-size="8.9" text-anchor="end" fill="#000" stroke="#000" stroke-width="0.1" font-weight="normal" >0.2</text>
<line x1="491.90" y1="208.82" x2="494.90" y2="208.82" stroke="#333333" stroke-width="1"/>
<text x="487.90" y="212.12" font-size="8.9" text-anchor="end" fill="#000" stroke="#000" stroke-width="0.1" font-weight="normal" >0.0</text>
<line x1="491.90" y1="235.64" x2="494.90" y2="235.64" stroke="#333333" stroke-width="1"/>
<text x="487.90" y="238.94" font-size="8.9" text-anchor="end" fill="#000" stroke="#000" stroke-width="0.1" font-weight="normal" >−0.2</text>
<line x1="491.90" y1="262.46" x2="494.90" y2="262.46" stroke="#333333" stroke-width="1"/>
<text x="487.90" y="265.76" font-size="8.9" text-anchor="end" fill="#000" stroke="#000" stroke-width="0.1" font-weight="normal" >−0.4</text>
<line x1="491.90" y1="289.28" x2="494.90" y2="289.28" stroke="#333333" stroke-width="1"/>
<text x="487.90" y="292.58" font-size="8.9" text-anchor="end" fill="#000" stroke="#000" stroke-width="0.1" font-weight="normal" >−0.6</text>
<text x="487.90" y="319.40" font-size="8.9" text-anchor="end" fill="#000" stroke="#000" stroke-width="0.1" font-weight="normal" >−0.8</text>
<line x1="516.90" y1="316.10" x2="516.90" y2="313.10" stroke="#333333" stroke-width="1"/>
<text x="516.90" y="326.30" font-size="8.9" text-anchor="middle" fill="#000" stroke="#000" stroke-width="0.1" font-weight="normal" >2</text>
<line x1="548.10" y1="316.10" x2="548.10" y2="313.10" stroke="#333333" stroke-width="1"/>
<text x="548.10" y="326.30" font-size="8.9" text-anchor="middle" fill="#000" stroke="#000" stroke-width="0.1" font-weight="normal" >4</text>
<line x1="579.30" y1="316.10" x2="579.30" y2="313.10" stroke="#333333" stroke-width="1"/>
<text x="579.30" y="326.30" font-size="8.9" text-anchor="middle" fill="#000" stroke="#000" stroke-width="0.1" font-weight="normal" >6</text>
<line x1="610.50" y1="316.10" x2="610.50" y2="313.10" stroke="#333333" stroke-width="1"/>
<text x="610.50" y="326.30" font-size="8.9" text-anchor="middle" fill="#000" stroke="#000" stroke-width="0.1" font-weight="normal" >8</text>
<line x1="641.70" y1="316.10" x2="641.70" y2="313.10" stroke="#333333" stroke-width="1"/>
<text x="641.70" y="326.30" font-size="8.9" text-anchor="middle" fill="#000" stroke="#000" stroke-width="0.1" font-weight="normal" >10</text>
<line x1="672.90" y1="316.10" x2="672.90" y2="313.10" stroke="#333333" stroke-width="1"/>
<text x="672.90" y="326.30" font-size="8.9" text-anchor="middle" fill="#000" stroke="#000" stroke-width="0.1" font-weight="normal" >12</text>
<rect x="491.90" y="182.00" width="189.90" height="134.10" fill="none" stroke="#333333" stroke-width="1"/>
<text x="586.85" y="193.00" font-size="10.3" text-anchor="middle" fill="#000" stroke="#000" stroke-width="0.1" font-weight="normal" >Σ9(211)</text>
<text x="586.85" y="338.10" font-size="8.9" text-anchor="middle" fill="#000" stroke="#000" stroke-width="0.1" font-weight="normal" >Site</text>
<text x="464.00" y="184.00" font-size="13.5" text-anchor="start" fill="#000" stroke="#000" stroke-width="0.1" font-weight="bold" >f</text>
<polyline points="501.30,232.82 516.90,225.31 532.50,256.69 548.10,225.72 563.70,232.82 579.30,260.72 594.90,264.07 610.50,228.67 626.10,219.55 641.70,219.55 657.30,214.59 672.90,214.59" fill="none" stroke="#ff0000" stroke-width="1.15" stroke-linejoin="round"/>
<circle cx="501.30" cy="232.82" r="2.65" fill="#ff0000" stroke="none" stroke-width="0"/>
<circle cx="516.90" cy="225.31" r="2.65" fill="#ff0000" stroke="none" stroke-width="0"/>
<circle cx="532.50" cy="256.69" r="2.65" fill="#ff0000" stroke="none" stroke-width="0"/>
<circle cx="548.10" cy="225.72" r="2.65" fill="#ff0000" stroke="none" stroke-width="0"/>
<circle cx="563.70" cy="232.82" r="2.65" fill="#ff0000" stroke="none" stroke-width="0"/>
<circle cx="579.30" cy="260.72" r="2.65" fill="#ff0000" stroke="none" stroke-width="0"/>
<circle cx="594.90" cy="264.07" r="2.65" fill="#ff0000" stroke="none" stroke-width="0"/>
<circle cx="610.50" cy="228.67" r="2.65" fill="#ff0000" stroke="none" stroke-width="0"/>
<circle cx="626.10" cy="219.55" r="2.65" fill="#ff0000" stroke="none" stroke-width="0"/>
<circle cx="641.70" cy="219.55" r="2.65" fill="#ff0000" stroke="none" stroke-width="0"/>
<circle cx="657.30" cy="214.59" r="2.65" fill="#ff0000" stroke="none" stroke-width="0"/>
<circle cx="672.90" cy="214.59" r="2.65" fill="#ff0000" stroke="none" stroke-width="0"/>
<polyline points="501.30,244.62 516.90,233.09 532.50,266.48 548.10,233.09 563.70,244.62 579.30,269.84 594.90,271.58 610.50,233.09 626.10,225.31 641.70,225.31 657.30,220.89 672.90,224.64" fill="none" stroke="#0000ff" stroke-width="1.15" stroke-linejoin="round"/>
<polygon points="501.30,242.07 504.05,247.17 498.55,247.17" fill="#0000ff"/>
<polygon points="516.90,230.54 519.65,235.64 514.15,235.64" fill="#0000ff"/>
<polygon points="532.50,263.93 535.25,269.03 529.75,269.03" fill="#0000ff"/>
<polygon points="548.10,230.54 550.85,235.64 545.35,235.64" fill="#0000ff"/>
<polygon points="563.70,242.07 566.45,247.17 560.95,247.17" fill="#0000ff"/>
<polygon points="579.30,267.29 582.05,272.39 576.55,272.39" fill="#0000ff"/>
<polygon points="594.90,269.03 597.65,274.13 592.15,274.13" fill="#0000ff"/>
<polygon points="610.50,230.54 613.25,235.64 607.75,235.64" fill="#0000ff"/>
<polygon points="626.10,222.76 628.85,227.86 623.35,227.86" fill="#0000ff"/>
<polygon points="641.70,222.76 644.45,227.86 638.95,227.86" fill="#0000ff"/>
<polygon points="657.30,218.34 660.05,223.44 654.55,223.44" fill="#0000ff"/>
<polygon points="672.90,222.09 675.65,227.19 670.15,227.19" fill="#0000ff"/>
<polyline points="501.30,243.95 516.90,238.86 532.50,283.65 548.10,283.65 563.70,243.95 579.30,278.28 594.90,289.82 610.50,245.56 626.10,248.25 641.70,248.25 657.30,242.61 672.90,240.47" fill="none" stroke="#228b22" stroke-width="1.15" stroke-linejoin="round"/>
<polygon points="501.30,246.50 504.05,241.40 498.55,241.40" fill="#228b22"/>
<polygon points="516.90,241.41 519.65,236.31 514.15,236.31" fill="#228b22"/>
<polygon points="532.50,286.20 535.25,281.10 529.75,281.10" fill="#228b22"/>
<polygon points="548.10,286.20 550.85,281.10 545.35,281.10" fill="#228b22"/>
<polygon points="563.70,246.50 566.45,241.40 560.95,241.40" fill="#228b22"/>
<polygon points="579.30,280.83 582.05,275.73 576.55,275.73" fill="#228b22"/>
<polygon points="594.90,292.37 597.65,287.27 592.15,287.27" fill="#228b22"/>
<polygon points="610.50,248.11 613.25,243.01 607.75,243.01" fill="#228b22"/>
<polygon points="626.10,250.80 628.85,245.70 623.35,245.70" fill="#228b22"/>
<polygon points="641.70,250.80 644.45,245.70 638.95,245.70" fill="#228b22"/>
<polygon points="657.30,245.16 660.05,240.06 654.55,240.06" fill="#228b22"/>
<polygon points="672.90,243.02 675.65,237.92 670.15,237.92" fill="#228b22"/>
<polyline points="501.30,234.84 516.90,224.64 532.50,260.05 548.10,228.67 563.70,235.51 579.30,261.79 594.90,269.17 610.50,233.09 626.10,214.59 641.70,218.61 657.30,216.87 672.90,214.59" fill="none" stroke="#000000" stroke-width="1.15" stroke-linejoin="round"/>
<rect x="498.85" y="232.39" width="4.90" height="4.90" fill="#000000"/>
<rect x="514.45" y="222.19" width="4.90" height="4.90" fill="#000000"/>
<rect x="530.05" y="257.60" width="4.90" height="4.90" fill="#000000"/>
<rect x="545.65" y="226.22" width="4.90" height="4.90" fill="#000000"/>
<rect x="561.25" y="233.06" width="4.90" height="4.90" fill="#000000"/>
<rect x="576.85" y="259.34" width="4.90" height="4.90" fill="#000000"/>
<rect x="592.45" y="266.72" width="4.90" height="4.90" fill="#000000"/>
<rect x="608.05" y="230.64" width="4.90" height="4.90" fill="#000000"/>
<rect x="623.65" y="212.14" width="4.90" height="4.90" fill="#000000"/>
<rect x="639.25" y="216.16" width="4.90" height="4.90" fill="#000000"/>
<rect x="654.85" y="214.42" width="4.90" height="4.90" fill="#000000"/>
<rect x="670.45" y="212.14" width="4.90" height="4.90" fill="#000000"/>
<text x="117.70" y="363.70" font-size="8.9" text-anchor="end" fill="#000" stroke="#000" stroke-width="0.1" font-weight="normal" >0.2</text>
<line x1="121.70" y1="382.70" x2="124.70" y2="382.70" stroke="#333333" stroke-width="1"/>
<text x="117.70" y="386.00" font-size="8.9" text-anchor="end" fill="#000" stroke="#000" stroke-width="0.1" font-weight="normal" >0.0</text>
<line x1="121.70" y1="405.00" x2="124.70" y2="405.00" stroke="#333333" stroke-width="1"/>
<text x="117.70" y="408.30" font-size="8.9" text-anchor="end" fill="#000" stroke="#000" stroke-width="0.1" font-weight="normal" >−0.2</text>
<line x1="121.70" y1="427.30" x2="124.70" y2="427.30" stroke="#333333" stroke-width="1"/>
<text x="117.70" y="430.60" font-size="8.9" text-anchor="end" fill="#000" stroke="#000" stroke-width="0.1" font-weight="normal" >−0.4</text>
<line x1="121.70" y1="449.60" x2="124.70" y2="449.60" stroke="#333333" stroke-width="1"/>
<text x="117.70" y="452.90" font-size="8.9" text-anchor="end" fill="#000" stroke="#000" stroke-width="0.1" font-weight="normal" >−0.6</text>
<line x1="121.70" y1="471.90" x2="124.70" y2="471.90" stroke="#333333" stroke-width="1"/>
<text x="117.70" y="475.20" font-size="8.9" text-anchor="end" fill="#000" stroke="#000" stroke-width="0.1" font-weight="normal" >−0.8</text>
<text x="117.70" y="497.50" font-size="8.9" text-anchor="end" fill="#000" stroke="#000" stroke-width="0.1" font-weight="normal" >−1.0</text>
<line x1="130.20" y1="494.20" x2="130.20" y2="491.20" stroke="#333333" stroke-width="1"/>
<text x="130.20" y="504.40" font-size="8.9" text-anchor="middle" fill="#000" stroke="#000" stroke-width="0.1" font-weight="normal" >1</text>
<line x1="151.80" y1="494.20" x2="151.80" y2="491.20" stroke="#333333" stroke-width="1"/>
<text x="151.80" y="504.40" font-size="8.9" text-anchor="middle" fill="#000" stroke="#000" stroke-width="0.1" font-weight="normal" >2</text>
<line x1="173.40" y1="494.20" x2="173.40" y2="491.20" stroke="#333333" stroke-width="1"/>
<text x="173.40" y="504.40" font-size="8.9" text-anchor="middle" fill="#000" stroke="#000" stroke-width="0.1" font-weight="normal" >3</text>
<line x1="195.00" y1="494.20" x2="195.00" y2="491.20" stroke="#333333" stroke-width="1"/>
<text x="195.00" y="504.40" font-size="8.9" text-anchor="middle" fill="#000" stroke="#000" stroke-width="0.1" font-weight="normal" >4</text>
<line x1="216.60" y1="494.20" x2="216.60" y2="491.20" stroke="#333333" stroke-width="1"/>
<text x="216.60" y="504.40" font-size="8.9" text-anchor="middle" fill="#000" stroke="#000" stroke-width="0.1" font-weight="normal" >5</text>
<line x1="238.20" y1="494.20" x2="238.20" y2="491.20" stroke="#333333" stroke-width="1"/>
<text x="238.20" y="504.40" font-size="8.9" text-anchor="middle" fill="#000" stroke="#000" stroke-width="0.1" font-weight="normal" >6</text>
<line x1="259.80" y1="494.20" x2="259.80" y2="491.20" stroke="#333333" stroke-width="1"/>
<text x="259.80" y="504.40" font-size="8.9" text-anchor="middle" fill="#000" stroke="#000" stroke-width="0.1" font-weight="normal" >7</text>
<line x1="281.40" y1="494.20" x2="281.40" y2="491.20" stroke="#333333" stroke-width="1"/>
<text x="281.40" y="504.40" font-size="8.9" text-anchor="middle" fill="#000" stroke="#000" stroke-width="0.1" font-weight="normal" >8</text>
<line x1="303.00" y1="494.20" x2="303.00" y2="491.20" stroke="#333333" stroke-width="1"/>
<text x="303.00" y="504.40" font-size="8.9" text-anchor="middle" fill="#000" stroke="#000" stroke-width="0.1" font-weight="normal" >9</text>
<rect x="121.70" y="360.40" width="189.60" height="133.80" fill="none" stroke="#333333" stroke-width="1"/>
<text x="216.50" y="371.00" font-size="10.3" text-anchor="middle" fill="#000" stroke="#000" stroke-width="0.1" font-weight="normal" >Σ11(113)</text>
<text x="94.00" y="427.30" font-size="8.9" stroke="#000" stroke-width="0.1" text-anchor="middle" transform="rotate(-90 94.00 427.30)">Segregation energy (eV)</text>
<text x="216.50" y="516.20" font-size="8.9" text-anchor="middle" fill="#000" stroke="#000" stroke-width="0.1" font-weight="normal" >Site</text>
<text x="90.50" y="362.30" font-size="13.5" text-anchor="start" fill="#000" stroke="#000" stroke-width="0.1" font-weight="bold" >g</text>
<polyline points="130.20,412.81 151.80,384.48 173.40,430.09 195.00,398.31 216.60,413.81 238.20,379.24 259.80,379.24 281.40,379.24 303.00,371.33" fill="none" stroke="#ff0000" stroke-width="1.15" stroke-linejoin="round"/>
<circle cx="130.20" cy="412.81" r="2.65" fill="#ff0000" stroke="none" stroke-width="0"/>
<circle cx="151.80" cy="384.48" r="2.65" fill="#ff0000" stroke="none" stroke-width="0"/>
<circle cx="173.40" cy="430.09" r="2.65" fill="#ff0000" stroke="none" stroke-width="0"/>
<circle cx="195.00" cy="398.31" r="2.65" fill="#ff0000" stroke="none" stroke-width="0"/>
<circle cx="216.60" cy="413.81" r="2.65" fill="#ff0000" stroke="none" stroke-width="0"/>
<circle cx="238.20" cy="379.24" r="2.65" fill="#ff0000" stroke="none" stroke-width="0"/>
<circle cx="259.80" cy="379.24" r="2.65" fill="#ff0000" stroke="none" stroke-width="0"/>
<circle cx="281.40" cy="379.24" r="2.65" fill="#ff0000" stroke="none" stroke-width="0"/>
<circle cx="303.00" cy="371.33" r="2.65" fill="#ff0000" stroke="none" stroke-width="0"/>
<polyline points="130.20,424.18 151.80,400.65 173.40,456.74 195.00,417.93 216.60,434.21 238.20,394.85 259.80,394.85 281.40,394.85 303.00,390.62" fill="none" stroke="#0000ff" stroke-width="1.15" stroke-linejoin="round"/>
<polygon points="130.20,421.63 132.95,426.73 127.45,426.73" fill="#0000ff"/>
<polygon points="151.80,398.10 154.55,403.20 149.05,403.20" fill="#0000ff"/>
<polygon points="173.40,454.19 176.15,459.29 170.65,459.29" fill="#0000ff"/>
<polygon points="195.00,415.38 197.75,420.48 192.25,420.48" fill="#0000ff"/>
<polygon points="216.60,431.66 219.35,436.76 213.85,436.76" fill="#0000ff"/>
<polygon points="238.20,392.30 240.95,397.40 235.45,397.40" fill="#0000ff"/>
<polygon points="259.80,392.30 262.55,397.40 257.05,397.40" fill="#0000ff"/>
<polygon points="281.40,392.30 284.15,397.40 278.65,397.40" fill="#0000ff"/>
<polygon points="303.00,388.07 305.75,393.17 300.25,393.17" fill="#0000ff"/>
<polyline points="130.20,445.59 151.80,471.57 173.40,481.94 195.00,470.90 216.60,475.02 238.20,431.09 259.80,431.09 281.40,431.09 303.00,439.45" fill="none" stroke="#228b22" stroke-width="1.15" stroke-linejoin="round"/>
<polygon points="130.20,448.14 132.95,443.04 127.45,443.04" fill="#228b22"/>
<polygon points="151.80,474.12 154.55,469.02 149.05,469.02" fill="#228b22"/>
<polygon points="173.40,484.49 176.15,479.38 170.65,479.38" fill="#228b22"/>
<polygon points="195.00,473.45 197.75,468.35 192.25,468.35" fill="#228b22"/>
<polygon points="216.60,477.57 219.35,472.47 213.85,472.47" fill="#228b22"/>
<polygon points="238.20,433.64 240.95,428.54 235.45,428.54" fill="#228b22"/>
<polygon points="259.80,433.64 262.55,428.54 257.05,428.54" fill="#228b22"/>
<polygon points="281.40,433.64 284.15,428.54 278.65,428.54" fill="#228b22"/>
<polygon points="303.00,442.00 305.75,436.90 300.25,436.90" fill="#228b22"/>
<polyline points="130.20,410.35 151.80,385.15 173.40,431.09 195.00,398.31 216.60,415.15 238.20,379.91 259.80,379.91 281.40,379.91 303.00,361.63" fill="none" stroke="#000000" stroke-width="1.15" stroke-linejoin="round"/>
<rect x="127.75" y="407.90" width="4.90" height="4.90" fill="#000000"/>
<rect x="149.35" y="382.70" width="4.90" height="4.90" fill="#000000"/>
<rect x="170.95" y="428.64" width="4.90" height="4.90" fill="#000000"/>
<rect x="192.55" y="395.86" width="4.90" height="4.90" fill="#000000"/>
<rect x="214.15" y="412.70" width="4.90" height="4.90" fill="#000000"/>
<rect x="235.75" y="377.46" width="4.90" height="4.90" fill="#000000"/>
<rect x="257.35" y="377.46" width="4.90" height="4.90" fill="#000000"/>
<rect x="278.95" y="377.46" width="4.90" height="4.90" fill="#000000"/>
<rect x="300.55" y="359.18" width="4.90" height="4.90" fill="#000000"/>
<line x1="385.60" y1="493.80" x2="540.40" y2="360.60" stroke="#505050" stroke-width="1.1" stroke-dasharray="3.7,2.3"/>
<clipPath id="clh"><rect x="385.60" y="360.60" width="154.80" height="133.20"/></clipPath><g clip-path="url(#clh)">
<polygon points="416.56,473.94 418.11,477.04 415.01,477.04" fill="#0000ff"/>
<polygon points="497.44,428.98 498.99,432.08 495.89,432.08" fill="#0000ff"/>
<polygon points="474.61,428.98 476.16,432.08 473.06,432.08" fill="#0000ff"/>
<polygon points="474.61,428.98 476.16,432.08 473.06,432.08" fill="#0000ff"/>
<polygon points="493.96,414.00 495.51,417.10 492.41,417.10" fill="#0000ff"/>
<polygon points="497.83,407.34 499.38,410.44 496.28,410.44" fill="#0000ff"/>
<polygon points="459.52,433.48 461.07,436.58 457.97,436.58" fill="#0000ff"/>
<polygon points="485.83,415.83 487.38,418.93 484.28,418.93" fill="#0000ff"/>
<polygon points="489.51,409.33 491.06,412.43 487.96,412.43" fill="#0000ff"/>
<polygon points="491.06,406.67 492.61,409.77 489.51,409.77" fill="#0000ff"/>
<polygon points="510.41,405.34 511.96,408.44 508.86,408.44" fill="#0000ff"/>
<polygon points="493.77,405.34 495.32,408.44 492.22,408.44" fill="#0000ff"/>
<polygon points="496.48,396.35 498.03,399.45 494.93,399.45" fill="#0000ff"/>
<polygon points="496.09,398.51 497.64,401.61 494.54,401.61" fill="#0000ff"/>
<polygon points="509.25,381.53 510.80,384.63 507.70,384.63" fill="#0000ff"/>
<polygon points="437.84,450.62 439.39,453.73 436.29,453.73" fill="#0000ff"/>
<polygon points="500.73,394.01 502.28,397.12 499.18,397.12" fill="#0000ff"/>
<polygon points="503.25,418.99 504.80,422.09 501.70,422.09" fill="#0000ff"/>
<polygon points="414.62,460.62 416.18,463.72 413.07,463.72" fill="#0000ff"/>
<polygon points="473.45,427.31 475.00,430.42 471.90,430.42" fill="#0000ff"/>
<polygon points="473.45,427.31 475.00,430.42 471.90,430.42" fill="#0000ff"/>
<polygon points="493.38,414.00 494.93,417.10 491.83,417.10" fill="#0000ff"/>
<polygon points="486.22,418.99 487.77,422.09 484.67,422.09" fill="#0000ff"/>
<polygon points="497.25,404.84 498.80,407.94 495.70,407.94" fill="#0000ff"/>
<polygon points="497.25,404.84 498.80,407.94 495.70,407.94" fill="#0000ff"/>
<polygon points="494.35,410.67 495.90,413.77 492.80,413.77" fill="#0000ff"/>
<polygon points="485.06,412.83 486.61,415.93 483.51,415.93" fill="#0000ff"/>
<polygon points="481.19,416.99 482.74,420.09 479.64,420.09" fill="#0000ff"/>
<polygon points="515.25,391.85 516.79,394.95 513.70,394.95" fill="#0000ff"/>
<polygon points="518.34,386.02 519.89,389.12 516.79,389.12" fill="#0000ff"/>
<polygon points="487.19,416.16 488.74,419.26 485.64,419.26" fill="#0000ff"/>
<polygon points="478.87,418.66 480.42,421.76 477.32,421.76" fill="#0000ff"/>
<polygon points="478.87,418.66 480.42,421.76 477.32,421.76" fill="#0000ff"/>
<polygon points="463.00,435.97 464.55,439.07 461.45,439.07" fill="#0000ff"/>
<polygon points="440.36,439.30 441.91,442.40 438.81,442.40" fill="#0000ff"/>
<polygon points="415.98,470.60 417.53,473.70 414.43,473.70" fill="#0000ff"/>
<polygon points="415.98,470.60 417.53,473.70 414.43,473.70" fill="#0000ff"/>
<polygon points="414.62,470.60 416.18,473.70 413.07,473.70" fill="#0000ff"/>
<polygon points="455.26,444.30 456.81,447.40 453.71,447.40" fill="#0000ff"/>
<polygon points="458.36,430.48 459.91,433.58 456.81,433.58" fill="#0000ff"/>
<polygon points="458.36,430.48 459.91,433.58 456.81,433.58" fill="#0000ff"/>
<polygon points="459.32,439.30 460.87,442.40 457.77,442.40" fill="#0000ff"/>
<polygon points="492.02,410.67 493.57,413.77 490.47,413.77" fill="#0000ff"/>
<polygon points="508.09,400.34 509.64,403.44 506.54,403.44" fill="#0000ff"/>
<polygon points="499.76,401.51 501.31,404.61 498.21,404.61" fill="#0000ff"/>
<polygon points="499.76,403.67 501.31,406.77 498.21,406.77" fill="#0000ff"/>
<polygon points="511.38,389.85 512.92,392.95 509.82,392.95" fill="#0000ff"/>
<polygon points="494.93,410.67 496.48,413.77 493.38,413.77" fill="#0000ff"/>
<polygon points="417.91,506.24 419.46,509.34 416.36,509.34" fill="#0000ff"/>
<polygon points="455.26,506.24 456.81,509.34 453.71,509.34" fill="#0000ff"/>
<polygon points="515.83,410.67 517.38,413.77 514.28,413.77" fill="#0000ff"/>
<polygon points="470.55,439.30 472.10,442.40 469.00,442.40" fill="#0000ff"/>
<polygon points="447.91,449.79 449.46,452.89 446.36,452.89" fill="#0000ff"/>
<polygon points="447.91,449.79 449.46,452.89 446.36,452.89" fill="#0000ff"/>
<polygon points="497.83,409.83 499.38,412.93 496.28,412.93" fill="#0000ff"/>
<polygon points="506.15,399.51 507.70,402.61 504.60,402.61" fill="#0000ff"/>
<polygon points="464.16,436.81 465.71,439.91 462.61,439.91" fill="#0000ff"/>
<polygon points="478.87,422.49 480.42,425.59 477.32,425.59" fill="#0000ff"/>
<polygon points="427.78,463.94 429.33,467.05 426.23,467.05" fill="#0000ff"/>
<polygon points="473.06,422.49 474.61,425.59 471.51,425.59" fill="#0000ff"/>
<polygon points="463.19,436.81 464.74,439.91 461.64,439.91" fill="#0000ff"/>
<polygon points="425.27,468.11 426.82,471.21 423.72,471.21" fill="#0000ff"/>
<polygon points="414.62,470.27 416.18,473.37 413.07,473.37" fill="#0000ff"/>
<polygon points="466.68,422.49 468.23,425.59 465.13,425.59" fill="#0000ff"/>
<polygon points="493.38,412.83 494.93,415.93 491.83,415.93" fill="#0000ff"/>
<polygon points="487.57,412.83 489.12,415.93 486.02,415.93" fill="#0000ff"/>
<polygon points="490.09,407.34 491.64,410.44 488.54,410.44" fill="#0000ff"/>
<polygon points="493.38,412.00 494.93,415.10 491.83,415.10" fill="#0000ff"/>
<polygon points="453.71,454.29 455.26,457.39 452.16,457.39" fill="#0000ff"/>
<polygon points="497.44,419.16 498.99,422.26 495.89,422.26" fill="#0000ff"/>
<polygon points="417.72,502.91 419.27,506.01 416.17,506.01" fill="#0000ff"/>
<polygon points="474.61,444.96 476.16,448.06 473.06,448.06" fill="#0000ff"/>
<polygon points="445.39,469.27 446.94,472.37 443.84,472.37" fill="#0000ff"/>
<polygon points="506.54,410.50 508.09,413.60 504.99,413.60" fill="#0000ff"/>
<polygon points="506.54,410.50 508.09,413.60 504.99,413.60" fill="#0000ff"/>
<polygon points="506.54,410.50 508.09,413.60 504.99,413.60" fill="#0000ff"/>
<polygon points="538.27,404.17 539.82,407.27 536.72,407.27" fill="#0000ff"/>
<circle cx="416.56" cy="465.50" r="1.50" fill="#ff0000" stroke="none" stroke-width="0"/>
<circle cx="497.44" cy="423.87" r="1.50" fill="#ff0000" stroke="none" stroke-width="0"/>
<circle cx="474.61" cy="417.21" r="1.50" fill="#ff0000" stroke="none" stroke-width="0"/>
<circle cx="474.61" cy="417.21" r="1.50" fill="#ff0000" stroke="none" stroke-width="0"/>
<circle cx="493.96" cy="398.90" r="1.50" fill="#ff0000" stroke="none" stroke-width="0"/>
<circle cx="497.83" cy="420.54" r="1.50" fill="#ff0000" stroke="none" stroke-width="0"/>
<circle cx="459.52" cy="432.69" r="1.50" fill="#ff0000" stroke="none" stroke-width="0"/>
<circle cx="485.83" cy="411.22" r="1.50" fill="#ff0000" stroke="none" stroke-width="0"/>
<circle cx="489.51" cy="404.39" r="1.50" fill="#ff0000" stroke="none" stroke-width="0"/>
<circle cx="491.06" cy="401.73" r="1.50" fill="#ff0000" stroke="none" stroke-width="0"/>
<circle cx="510.41" cy="400.73" r="1.50" fill="#ff0000" stroke="none" stroke-width="0"/>
<circle cx="493.77" cy="400.73" r="1.50" fill="#ff0000" stroke="none" stroke-width="0"/>
<circle cx="496.48" cy="393.57" r="1.50" fill="#ff0000" stroke="none" stroke-width="0"/>
<circle cx="496.09" cy="394.57" r="1.50" fill="#ff0000" stroke="none" stroke-width="0"/>
<circle cx="509.25" cy="380.25" r="1.50" fill="#ff0000" stroke="none" stroke-width="0"/>
<circle cx="437.84" cy="450.01" r="1.50" fill="#ff0000" stroke="none" stroke-width="0"/>
<circle cx="500.73" cy="388.91" r="1.50" fill="#ff0000" stroke="none" stroke-width="0"/>
<circle cx="503.25" cy="404.39" r="1.50" fill="#ff0000" stroke="none" stroke-width="0"/>
<circle cx="414.62" cy="466.83" r="1.50" fill="#ff0000" stroke="none" stroke-width="0"/>
<circle cx="473.45" cy="422.37" r="1.50" fill="#ff0000" stroke="none" stroke-width="0"/>
<circle cx="473.45" cy="422.37" r="1.50" fill="#ff0000" stroke="none" stroke-width="0"/>
<circle cx="493.38" cy="401.06" r="1.50" fill="#ff0000" stroke="none" stroke-width="0"/>
<circle cx="486.22" cy="401.39" r="1.50" fill="#ff0000" stroke="none" stroke-width="0"/>
<circle cx="497.25" cy="398.90" r="1.50" fill="#ff0000" stroke="none" stroke-width="0"/>
<circle cx="497.25" cy="398.90" r="1.50" fill="#ff0000" stroke="none" stroke-width="0"/>
<circle cx="494.35" cy="399.73" r="1.50" fill="#ff0000" stroke="none" stroke-width="0"/>
<circle cx="485.06" cy="408.89" r="1.50" fill="#ff0000" stroke="none" stroke-width="0"/>
<circle cx="481.19" cy="413.21" r="1.50" fill="#ff0000" stroke="none" stroke-width="0"/>
<circle cx="515.25" cy="385.91" r="1.50" fill="#ff0000" stroke="none" stroke-width="0"/>
<circle cx="518.34" cy="380.91" r="1.50" fill="#ff0000" stroke="none" stroke-width="0"/>
<circle cx="487.19" cy="411.05" r="1.50" fill="#ff0000" stroke="none" stroke-width="0"/>
<circle cx="478.87" cy="413.55" r="1.50" fill="#ff0000" stroke="none" stroke-width="0"/>
<circle cx="478.87" cy="414.38" r="1.50" fill="#ff0000" stroke="none" stroke-width="0"/>
<circle cx="463.00" cy="424.54" r="1.50" fill="#ff0000" stroke="none" stroke-width="0"/>
<circle cx="440.36" cy="441.69" r="1.50" fill="#ff0000" stroke="none" stroke-width="0"/>
<circle cx="415.98" cy="467.66" r="1.50" fill="#ff0000" stroke="none" stroke-width="0"/>
<circle cx="415.98" cy="467.66" r="1.50" fill="#ff0000" stroke="none" stroke-width="0"/>
<circle cx="414.62" cy="467.66" r="1.50" fill="#ff0000" stroke="none" stroke-width="0"/>
<circle cx="455.26" cy="431.20" r="1.50" fill="#ff0000" stroke="none" stroke-width="0"/>
<circle cx="458.36" cy="424.04" r="1.50" fill="#ff0000" stroke="none" stroke-width="0"/>
<circle cx="458.36" cy="424.04" r="1.50" fill="#ff0000" stroke="none" stroke-width="0"/>
<circle cx="459.32" cy="429.03" r="1.50" fill="#ff0000" stroke="none" stroke-width="0"/>
<circle cx="492.02" cy="401.06" r="1.50" fill="#ff0000" stroke="none" stroke-width="0"/>
<circle cx="508.09" cy="393.40" r="1.50" fill="#ff0000" stroke="none" stroke-width="0"/>
<circle cx="499.76" cy="392.57" r="1.50" fill="#ff0000" stroke="none" stroke-width="0"/>
<circle cx="499.76" cy="393.90" r="1.50" fill="#ff0000" stroke="none" stroke-width="0"/>
<circle cx="511.38" cy="382.58" r="1.50" fill="#ff0000" stroke="none" stroke-width="0"/>
<circle cx="494.93" cy="402.72" r="1.50" fill="#ff0000" stroke="none" stroke-width="0"/>
<circle cx="417.91" cy="465.99" r="1.50" fill="#ff0000" stroke="none" stroke-width="0"/>
<circle cx="455.26" cy="433.86" r="1.50" fill="#ff0000" stroke="none" stroke-width="0"/>
<circle cx="515.83" cy="383.08" r="1.50" fill="#ff0000" stroke="none" stroke-width="0"/>
<circle cx="470.55" cy="420.71" r="1.50" fill="#ff0000" stroke="none" stroke-width="0"/>
<circle cx="447.91" cy="435.36" r="1.50" fill="#ff0000" stroke="none" stroke-width="0"/>
<circle cx="447.91" cy="435.36" r="1.50" fill="#ff0000" stroke="none" stroke-width="0"/>
<circle cx="497.83" cy="392.24" r="1.50" fill="#ff0000" stroke="none" stroke-width="0"/>
<circle cx="506.15" cy="389.74" r="1.50" fill="#ff0000" stroke="none" stroke-width="0"/>
<circle cx="464.16" cy="423.70" r="1.50" fill="#ff0000" stroke="none" stroke-width="0"/>
<circle cx="478.87" cy="414.38" r="1.50" fill="#ff0000" stroke="none" stroke-width="0"/>
<circle cx="427.78" cy="453.34" r="1.50" fill="#ff0000" stroke="none" stroke-width="0"/>
<circle cx="473.06" cy="414.88" r="1.50" fill="#ff0000" stroke="none" stroke-width="0"/>
<circle cx="463.19" cy="423.70" r="1.50" fill="#ff0000" stroke="none" stroke-width="0"/>
<circle cx="425.27" cy="458.34" r="1.50" fill="#ff0000" stroke="none" stroke-width="0"/>
<circle cx="414.62" cy="462.50" r="1.50" fill="#ff0000" stroke="none" stroke-width="0"/>
<circle cx="466.68" cy="418.54" r="1.50" fill="#ff0000" stroke="none" stroke-width="0"/>
<circle cx="493.38" cy="407.22" r="1.50" fill="#ff0000" stroke="none" stroke-width="0"/>
<circle cx="487.57" cy="407.22" r="1.50" fill="#ff0000" stroke="none" stroke-width="0"/>
<circle cx="490.09" cy="401.06" r="1.50" fill="#ff0000" stroke="none" stroke-width="0"/>
<circle cx="493.38" cy="401.06" r="1.50" fill="#ff0000" stroke="none" stroke-width="0"/>
<circle cx="453.71" cy="438.86" r="1.50" fill="#ff0000" stroke="none" stroke-width="0"/>
<circle cx="497.44" cy="396.56" r="1.50" fill="#ff0000" stroke="none" stroke-width="0"/>
<circle cx="417.72" cy="464.66" r="1.50" fill="#ff0000" stroke="none" stroke-width="0"/>
<circle cx="474.61" cy="417.21" r="1.50" fill="#ff0000" stroke="none" stroke-width="0"/>
<circle cx="445.39" cy="440.35" r="1.50" fill="#ff0000" stroke="none" stroke-width="0"/>
<circle cx="506.54" cy="388.74" r="1.50" fill="#ff0000" stroke="none" stroke-width="0"/>
<circle cx="506.54" cy="388.74" r="1.50" fill="#ff0000" stroke="none" stroke-width="0"/>
<circle cx="506.54" cy="388.74" r="1.50" fill="#ff0000" stroke="none" stroke-width="0"/>
<circle cx="538.27" cy="376.92" r="1.50" fill="#ff0000" stroke="none" stroke-width="0"/>
</g>
<text x="381.60" y="363.90" font-size="8.9" text-anchor="end" fill="#000" stroke="#000" stroke-width="0.1" font-weight="normal" >0.2</text>
<line x1="385.60" y1="393.90" x2="388.60" y2="393.90" stroke="#333333" stroke-width="1"/>
<text x="381.60" y="397.20" font-size="8.9" text-anchor="end" fill="#000" stroke="#000" stroke-width="0.1" font-weight="normal" >0.0</text>
<line x1="385.60" y1="427.20" x2="388.60" y2="427.20" stroke="#333333" stroke-width="1"/>
<text x="381.60" y="430.50" font-size="8.9" text-anchor="end" fill="#000" stroke="#000" stroke-width="0.1" font-weight="normal" >−0.2</text>
<line x1="385.60" y1="460.50" x2="388.60" y2="460.50" stroke="#333333" stroke-width="1"/>
<text x="381.60" y="463.80" font-size="8.9" text-anchor="end" fill="#000" stroke="#000" stroke-width="0.1" font-weight="normal" >−0.4</text>
<text x="381.60" y="497.10" font-size="8.9" text-anchor="end" fill="#000" stroke="#000" stroke-width="0.1" font-weight="normal" >−0.6</text>
<line x1="385.60" y1="493.80" x2="385.60" y2="490.80" stroke="#333333" stroke-width="1"/>
<text x="385.60" y="504.00" font-size="8.9" text-anchor="middle" fill="#000" stroke="#000" stroke-width="0.1" font-weight="normal" >−0.6</text>
<line x1="424.30" y1="493.80" x2="424.30" y2="490.80" stroke="#333333" stroke-width="1"/>
<text x="424.30" y="504.00" font-size="8.9" text-anchor="middle" fill="#000" stroke="#000" stroke-width="0.1" font-weight="normal" >−0.4</text>
<line x1="463.00" y1="493.80" x2="463.00" y2="490.80" stroke="#333333" stroke-width="1"/>
<text x="463.00" y="504.00" font-size="8.9" text-anchor="middle" fill="#000" stroke="#000" stroke-width="0.1" font-weight="normal" >−0.2</text>
<line x1="501.70" y1="493.80" x2="501.70" y2="490.80" stroke="#333333" stroke-width="1"/>
<text x="501.70" y="504.00" font-size="8.9" text-anchor="middle" fill="#000" stroke="#000" stroke-width="0.1" font-weight="normal" >0.0</text>
<line x1="540.40" y1="493.80" x2="540.40" y2="490.80" stroke="#333333" stroke-width="1"/>
<text x="540.40" y="504.00" font-size="8.9" text-anchor="middle" fill="#000" stroke="#000" stroke-width="0.1" font-weight="normal" >0.2</text>
<rect x="385.60" y="360.60" width="154.80" height="133.20" fill="none" stroke="#333333" stroke-width="1"/>
<text x="358.00" y="427.20" font-size="8.9" stroke="#000" stroke-width="0.1" text-anchor="middle" transform="rotate(-90 358.00 427.20)">IP Segregation energy (eV)</text>
<text x="463.00" y="516.00" font-size="8.9" text-anchor="middle" fill="#000" stroke="#000" stroke-width="0.1" font-weight="normal" >DFT Segregation energy (eV)</text>
<text x="352.50" y="362.30" font-size="13.5" text-anchor="start" fill="#000" stroke="#000" stroke-width="0.1" font-weight="bold" >h</text>
<rect x="389.6" y="364.2" width="100.1" height="25.8" fill="#fff" stroke="#333333" stroke-width="1"/>
<circle cx="402.50" cy="371.80" r="1.60" fill="#ff0000" stroke="none" stroke-width="0"/>
<polygon points="402.50,380.70 404.10,383.90 400.90,383.90" fill="#0000ff"/>
<text x="418.50" y="374.50" font-size="8.9" text-anchor="start" fill="#000" stroke="#000" stroke-width="0.1" font-weight="normal" >This work (MLIP)</text>
<text x="418.50" y="385.00" font-size="8.9" text-anchor="start" fill="#000" stroke="#000" stroke-width="0.1" font-weight="normal" >Previous MLIP</text>
<text x="441.80" y="469.40" font-size="11.8" text-anchor="start" fill="#ff0000" stroke="#ff0000" stroke-width="0.1" font-weight="normal" >RMSE=0.035 eV</text>
<text x="441.80" y="483.30" font-size="11.8" text-anchor="start" fill="#0000ff" stroke="#0000ff" stroke-width="0.1" font-weight="normal" >RMSE=0.102 eV</text>
<rect x="552.3" y="397.4" width="97.8" height="45.1" fill="#fff" stroke="#333333" stroke-width="1"/>
<line x1="555.9" y1="404.80" x2="573.9" y2="404.80" stroke="#ff0000" stroke-width="1"/>
<circle cx="565.00" cy="404.80" r="2.20" fill="#ff0000" stroke="none" stroke-width="0"/>
<text x="580.90" y="407.90" font-size="8.7" text-anchor="start" fill="#000" stroke="#000" stroke-width="0.1" font-weight="normal" >This work (MLIP)</text>
<line x1="555.9" y1="414.70" x2="573.9" y2="414.70" stroke="#0000ff" stroke-width="1"/>
<polygon points="565.00,412.20 567.50,417.20 562.50,417.20" fill="#0000ff"/>
<text x="580.90" y="417.80" font-size="8.7" text-anchor="start" fill="#000" stroke="#000" stroke-width="0.1" font-weight="normal" >Previous MLIP</text>
<line x1="555.9" y1="424.60" x2="573.9" y2="424.60" stroke="#228b22" stroke-width="1"/>
<polygon points="565.00,427.10 567.50,422.10 562.50,422.10" fill="#228b22"/>
<text x="580.90" y="427.70" font-size="8.7" text-anchor="start" fill="#000" stroke="#000" stroke-width="0.1" font-weight="normal" >EAM</text>
<line x1="555.9" y1="434.50" x2="573.9" y2="434.50" stroke="#000000" stroke-width="1"/>
<rect x="562.90" y="432.40" width="4.20" height="4.20" fill="#000000"/>
<text x="580.90" y="437.60" font-size="8.7" text-anchor="start" fill="#000" stroke="#000" stroke-width="0.1" font-weight="normal" >DFT</text>
<clipPath id="cla"><rect x="133.50" y="88.00" width="53.25" height="51.75"/></clipPath>
<rect x="135.00" y="88.00" width="50.25" height="51.75" fill="#ffffff"/>
<line x1="137.50" y1="88.00" x2="137.50" y2="139.75" stroke="#3a3a3a" stroke-width="1.1"/>
<line x1="182.75" y1="88.00" x2="182.75" y2="139.75" stroke="#3a3a3a" stroke-width="1.1"/>
<g clip-path="url(#cla)">
<circle cx="144.75" cy="102.50" r="2.30" fill="none" stroke="#b0b0b0" stroke-width="1.0"/>
<circle cx="144.75" cy="124.50" r="2.30" fill="none" stroke="#b0b0b0" stroke-width="1.0"/>
<circle cx="160.00" cy="96.50" r="2.30" fill="none" stroke="#b0b0b0" stroke-width="1.0"/>
<circle cx="160.00" cy="113.50" r="2.30" fill="none" stroke="#b0b0b0" stroke-width="1.0"/>
<circle cx="160.00" cy="130.50" r="2.30" fill="none" stroke="#b0b0b0" stroke-width="1.0"/>
<circle cx="175.25" cy="91.00" r="2.30" fill="none" stroke="#b0b0b0" stroke-width="1.0"/>
<circle cx="175.25" cy="106.00" r="2.30" fill="none" stroke="#b0b0b0" stroke-width="1.0"/>
<circle cx="175.25" cy="121.00" r="2.30" fill="none" stroke="#b0b0b0" stroke-width="1.0"/>
<circle cx="175.25" cy="136.00" r="2.30" fill="none" stroke="#b0b0b0" stroke-width="1.0"/>
<circle cx="144.75" cy="87.50" r="2.30" fill="none" stroke="#b0b0b0" stroke-width="1.0"/>
<circle cx="167.75" cy="87.50" r="2.30" fill="none" stroke="#b0b0b0" stroke-width="1.0"/>
<circle cx="144.75" cy="141.00" r="2.30" fill="none" stroke="#b0b0b0" stroke-width="1.0"/>
<circle cx="137.50" cy="96.50" r="2.60" fill="#2b50ee"/>
<circle cx="137.50" cy="113.50" r="2.60" fill="#2b50ee"/>
<circle cx="137.50" cy="130.50" r="2.60" fill="#2b50ee"/>
<circle cx="182.75" cy="96.50" r="2.60" fill="#2b50ee"/>
<circle cx="182.75" cy="113.50" r="2.60" fill="#2b50ee"/>
<circle cx="182.75" cy="130.50" r="2.60" fill="#2b50ee"/>
<circle cx="152.75" cy="91.00" r="2.60" fill="#2b50ee"/>
<circle cx="152.75" cy="106.00" r="2.60" fill="#2b50ee"/>
<circle cx="152.75" cy="121.00" r="2.60" fill="#2b50ee"/>
<circle cx="152.75" cy="136.00" r="2.60" fill="#2b50ee"/>
<circle cx="167.75" cy="102.25" r="2.60" fill="#2b50ee"/>
<circle cx="167.75" cy="124.75" r="2.60" fill="#2b50ee"/>
<circle cx="167.75" cy="140.80" r="2.60" fill="#2b50ee"/>
<rect x="172.00" y="94.10" width="1.80" height="1.80" fill="#e8201a"/>
<rect x="160.10" y="105.10" width="1.80" height="1.80" fill="#e8201a"/>
<rect x="164.70" y="104.10" width="1.80" height="1.80" fill="#e8201a"/>
<rect x="177.10" y="105.10" width="1.80" height="1.80" fill="#e8201a"/>
<rect x="161.00" y="112.60" width="1.80" height="1.80" fill="#e8201a"/>
<rect x="167.10" y="112.60" width="1.80" height="1.80" fill="#e8201a"/>
</g>
<clipPath id="clb"><rect x="375.40" y="85.00" width="71.10" height="54.75"/></clipPath>
<rect x="376.90" y="85.00" width="68.10" height="54.75" fill="#ffffff"/>
<line x1="379.40" y1="85.00" x2="379.40" y2="139.75" stroke="#3a3a3a" stroke-width="1.1"/>
<line x1="442.50" y1="85.00" x2="442.50" y2="139.75" stroke="#3a3a3a" stroke-width="1.1"/>
<g clip-path="url(#clb)">
<circle cx="379.40" cy="89.00" r="2.30" fill="none" stroke="#b0b0b0" stroke-width="1.0"/>
<circle cx="395.25" cy="89.00" r="2.30" fill="none" stroke="#b0b0b0" stroke-width="1.0"/>
<circle cx="410.90" cy="89.00" r="2.30" fill="none" stroke="#b0b0b0" stroke-width="1.0"/>
<circle cx="426.60" cy="89.00" r="2.30" fill="none" stroke="#b0b0b0" stroke-width="1.0"/>
<circle cx="442.50" cy="89.00" r="2.30" fill="none" stroke="#b0b0b0" stroke-width="1.0"/>
<circle cx="390.00" cy="104.00" r="2.30" fill="none" stroke="#b0b0b0" stroke-width="1.0"/>
<circle cx="405.90" cy="104.00" r="2.30" fill="none" stroke="#b0b0b0" stroke-width="1.0"/>
<circle cx="421.40" cy="104.00" r="2.30" fill="none" stroke="#b0b0b0" stroke-width="1.0"/>
<circle cx="437.40" cy="104.00" r="2.30" fill="none" stroke="#b0b0b0" stroke-width="1.0"/>
<circle cx="387.50" cy="119.75" r="2.30" fill="none" stroke="#b0b0b0" stroke-width="1.0"/>
<circle cx="403.40" cy="119.75" r="2.30" fill="none" stroke="#b0b0b0" stroke-width="1.0"/>
<circle cx="419.00" cy="119.75" r="2.30" fill="none" stroke="#b0b0b0" stroke-width="1.0"/>
<circle cx="434.90" cy="119.75" r="2.30" fill="none" stroke="#b0b0b0" stroke-width="1.0"/>
<circle cx="393.10" cy="134.60" r="2.30" fill="none" stroke="#b0b0b0" stroke-width="1.0"/>
<circle cx="408.90" cy="134.60" r="2.30" fill="none" stroke="#b0b0b0" stroke-width="1.0"/>
<circle cx="424.50" cy="134.60" r="2.30" fill="none" stroke="#b0b0b0" stroke-width="1.0"/>
<circle cx="440.00" cy="134.60" r="2.30" fill="none" stroke="#b0b0b0" stroke-width="1.0"/>
<circle cx="385.00" cy="96.60" r="2.60" fill="#2b50ee"/>
<circle cx="400.60" cy="96.60" r="2.60" fill="#2b50ee"/>
<circle cx="416.40" cy="96.60" r="2.60" fill="#2b50ee"/>
<circle cx="432.10" cy="96.60" r="2.60" fill="#2b50ee"/>
<circle cx="395.40" cy="112.00" r="2.60" fill="#2b50ee"/>
<circle cx="411.00" cy="112.00" r="2.60" fill="#2b50ee"/>
<circle cx="426.60" cy="112.00" r="2.60" fill="#2b50ee"/>
<circle cx="442.50" cy="112.00" r="2.60" fill="#2b50ee"/>
<circle cx="382.90" cy="127.50" r="2.60" fill="#2b50ee"/>
<circle cx="398.60" cy="127.50" r="2.60" fill="#2b50ee"/>
<circle cx="414.40" cy="127.50" r="2.60" fill="#2b50ee"/>
<circle cx="430.00" cy="127.50" r="2.60" fill="#2b50ee"/>
<rect x="432.10" y="95.10" width="1.80" height="1.80" fill="#e8201a"/>
<rect x="439.10" y="95.60" width="1.80" height="1.80" fill="#e8201a"/>
<rect x="423.10" y="101.60" width="1.80" height="1.80" fill="#e8201a"/>
<rect x="428.80" y="103.60" width="1.80" height="1.80" fill="#e8201a"/>
<rect x="433.10" y="105.10" width="1.80" height="1.80" fill="#e8201a"/>
<rect x="437.80" y="102.10" width="1.80" height="1.80" fill="#e8201a"/>
<rect x="427.00" y="111.10" width="1.80" height="1.80" fill="#e8201a"/>
<rect x="433.10" y="110.10" width="1.80" height="1.80" fill="#e8201a"/>
</g>
<clipPath id="clc"><rect x="608.60" y="76.90" width="48.80" height="62.10"/></clipPath>
<rect x="610.10" y="76.90" width="45.80" height="62.10" fill="#ffffff"/>
<line x1="612.60" y1="76.90" x2="612.60" y2="139.00" stroke="#555" stroke-width="1.0"/>
<line x1="653.40" y1="76.90" x2="653.40" y2="139.00" stroke="#555" stroke-width="1.0"/>
<g clip-path="url(#clc)">
<circle cx="636.80" cy="80.10" r="2.30" fill="none" stroke="#b0b0b0" stroke-width="1.0"/>
<circle cx="620.60" cy="88.50" r="2.30" fill="none" stroke="#b0b0b0" stroke-width="1.0"/>
<circle cx="645.00" cy="96.40" r="2.30" fill="none" stroke="#b0b0b0" stroke-width="1.0"/>
<circle cx="628.40" cy="105.40" r="2.30" fill="none" stroke="#b0b0b0" stroke-width="1.0"/>
<circle cx="613.00" cy="113.00" r="2.30" fill="none" stroke="#b0b0b0" stroke-width="1.0"/>
<circle cx="638.70" cy="120.50" r="2.30" fill="none" stroke="#b0b0b0" stroke-width="1.0"/>
<circle cx="653.10" cy="128.20" r="2.30" fill="none" stroke="#b0b0b0" stroke-width="1.0"/>
<circle cx="628.40" cy="135.70" r="2.30" fill="none" stroke="#b0b0b0" stroke-width="1.0"/>
<circle cx="624.50" cy="76.50" r="2.60" fill="#2b50ee"/>
<circle cx="649.00" cy="84.00" r="2.60" fill="#2b50ee"/>
<circle cx="632.50" cy="92.40" r="2.60" fill="#2b50ee"/>
<circle cx="616.60" cy="100.30" r="2.60" fill="#2b50ee"/>
<circle cx="641.40" cy="108.00" r="2.60" fill="#2b50ee"/>
<circle cx="624.50" cy="122.00" r="2.60" fill="#2b50ee"/>
<circle cx="640.80" cy="132.30" r="2.60" fill="#2b50ee"/>
<circle cx="616.30" cy="139.30" r="2.60" fill="#2b50ee"/>
<rect x="625.10" y="95.30" width="1.80" height="1.80" fill="#e8201a"/>
<rect x="633.40" y="97.40" width="1.80" height="1.80" fill="#e8201a"/>
<rect x="639.60" y="97.10" width="1.80" height="1.80" fill="#e8201a"/>
<rect x="646.10" y="99.10" width="1.80" height="1.80" fill="#e8201a"/>
<rect x="625.80" y="100.10" width="1.80" height="1.80" fill="#e8201a"/>
<rect x="630.90" y="102.00" width="1.80" height="1.80" fill="#e8201a"/>
<rect x="617.10" y="104.00" width="1.80" height="1.80" fill="#e8201a"/>
<rect x="647.10" y="104.80" width="1.80" height="1.80" fill="#e8201a"/>
<rect x="648.50" y="103.50" width="1.80" height="1.80" fill="#e8201a"/>
<rect x="620.10" y="109.60" width="1.80" height="1.80" fill="#e8201a"/>
<rect x="634.70" y="110.60" width="1.80" height="1.80" fill="#e8201a"/>
<rect x="631.40" y="112.90" width="1.80" height="1.80" fill="#e8201a"/>
<rect x="643.10" y="110.40" width="1.80" height="1.80" fill="#e8201a"/>
<rect x="650.50" y="108.50" width="1.80" height="1.80" fill="#e8201a"/>
</g>
<clipPath id="cld"><rect x="166.60" y="262.50" width="56.20" height="45.50"/></clipPath>
<rect x="168.10" y="262.50" width="53.20" height="45.50" fill="#ffffff"/>
<line x1="170.60" y1="262.50" x2="170.60" y2="308.00" stroke="#444" stroke-width="1.0"/>
<line x1="218.80" y1="262.50" x2="218.80" y2="308.00" stroke="#999" stroke-width="1.3"/>
<g clip-path="url(#cld)">
<circle cx="218.20" cy="265.10" r="2.30" fill="none" stroke="#b0b0b0" stroke-width="1.0"/>
<circle cx="203.60" cy="270.00" r="2.30" fill="none" stroke="#b0b0b0" stroke-width="1.0"/>
<circle cx="189.40" cy="275.20" r="2.30" fill="none" stroke="#b0b0b0" stroke-width="1.0"/>
<circle cx="174.80" cy="280.00" r="2.30" fill="none" stroke="#b0b0b0" stroke-width="1.0"/>
<circle cx="208.40" cy="284.80" r="2.30" fill="none" stroke="#b0b0b0" stroke-width="1.0"/>
<circle cx="194.60" cy="291.00" r="2.30" fill="none" stroke="#b0b0b0" stroke-width="1.0"/>
<circle cx="208.40" cy="297.10" r="2.30" fill="none" stroke="#b0b0b0" stroke-width="1.0"/>
<circle cx="174.80" cy="302.00" r="2.30" fill="none" stroke="#b0b0b0" stroke-width="1.0"/>
<circle cx="189.40" cy="306.90" r="2.30" fill="none" stroke="#b0b0b0" stroke-width="1.0"/>
<circle cx="194.00" cy="265.40" r="2.60" fill="#2b50ee"/>
<circle cx="179.80" cy="270.00" r="2.60" fill="#2b50ee"/>
<circle cx="213.40" cy="275.00" r="2.60" fill="#2b50ee"/>
<circle cx="199.00" cy="279.80" r="2.60" fill="#2b50ee"/>
<circle cx="184.60" cy="285.00" r="2.60" fill="#2b50ee"/>
<circle cx="171.20" cy="291.00" r="2.60" fill="#2b50ee"/>
<circle cx="184.60" cy="297.10" r="2.60" fill="#2b50ee"/>
<circle cx="199.00" cy="302.00" r="2.60" fill="#2b50ee"/>
<circle cx="213.40" cy="306.90" r="2.60" fill="#2b50ee"/>
<rect x="202.30" y="278.10" width="1.80" height="1.80" fill="#e8201a"/>
<rect x="205.10" y="276.60" width="1.80" height="1.80" fill="#e8201a"/>
<rect x="206.30" y="280.60" width="1.80" height="1.80" fill="#e8201a"/>
<rect x="213.70" y="278.80" width="1.80" height="1.80" fill="#e8201a"/>
<rect x="214.90" y="282.50" width="1.80" height="1.80" fill="#e8201a"/>
<rect x="216.40" y="286.10" width="1.80" height="1.80" fill="#e8201a"/>
<rect x="199.50" y="284.70" width="1.80" height="1.80" fill="#e8201a"/>
<rect x="200.70" y="288.70" width="1.80" height="1.80" fill="#e8201a"/>
<rect x="202.90" y="288.10" width="1.80" height="1.80" fill="#e8201a"/>
<rect x="208.50" y="290.40" width="1.80" height="1.80" fill="#e8201a"/>
<rect x="214.10" y="290.40" width="1.80" height="1.80" fill="#e8201a"/>
</g>
<clipPath id="cle"><rect x="391.80" y="262.50" width="61.00" height="43.00"/></clipPath>
<rect x="390.80" y="262.50" width="60.50" height="43.00" fill="#ffffff"/>
<line x1="395.80" y1="262.50" x2="395.80" y2="305.50" stroke="#888" stroke-width="1.3"/>
<line x1="448.80" y1="262.50" x2="448.80" y2="305.50" stroke="#888" stroke-width="1.3"/>
<g clip-path="url(#cle)">
<circle cx="416.60" cy="264.00" r="2.30" fill="none" stroke="#b0b0b0" stroke-width="1.0"/>
<circle cx="431.30" cy="268.30" r="2.30" fill="none" stroke="#b0b0b0" stroke-width="1.0"/>
<circle cx="446.20" cy="272.30" r="2.30" fill="none" stroke="#b0b0b0" stroke-width="1.0"/>
<circle cx="407.60" cy="276.10" r="2.30" fill="none" stroke="#b0b0b0" stroke-width="1.0"/>
<circle cx="422.60" cy="283.50" r="2.30" fill="none" stroke="#b0b0b0" stroke-width="1.0"/>
<circle cx="437.40" cy="283.50" r="2.30" fill="none" stroke="#b0b0b0" stroke-width="1.0"/>
<circle cx="407.60" cy="291.30" r="2.30" fill="none" stroke="#b0b0b0" stroke-width="1.0"/>
<circle cx="446.20" cy="295.10" r="2.30" fill="none" stroke="#b0b0b0" stroke-width="1.0"/>
<circle cx="431.30" cy="299.10" r="2.30" fill="none" stroke="#b0b0b0" stroke-width="1.0"/>
<circle cx="416.60" cy="303.20" r="2.30" fill="none" stroke="#b0b0b0" stroke-width="1.0"/>
<circle cx="404.70" cy="268.50" r="2.60" fill="#2b50ee"/>
<circle cx="419.40" cy="272.30" r="2.60" fill="#2b50ee"/>
<circle cx="443.10" cy="264.20" r="2.60" fill="#2b50ee"/>
<circle cx="433.90" cy="276.10" r="2.60" fill="#2b50ee"/>
<circle cx="396.30" cy="283.50" r="2.60" fill="#2b50ee"/>
<circle cx="411.10" cy="283.50" r="2.60" fill="#2b50ee"/>
<circle cx="433.90" cy="291.30" r="2.60" fill="#2b50ee"/>
<circle cx="419.40" cy="295.10" r="2.60" fill="#2b50ee"/>
<circle cx="404.70" cy="299.10" r="2.60" fill="#2b50ee"/>
<circle cx="443.10" cy="303.20" r="2.60" fill="#2b50ee"/>
<rect x="411.30" y="270.00" width="1.80" height="1.80" fill="#e8201a"/>
<rect x="427.10" y="268.40" width="1.80" height="1.80" fill="#e8201a"/>
<rect x="399.60" y="275.70" width="1.80" height="1.80" fill="#e8201a"/>
<rect x="441.90" y="277.30" width="1.80" height="1.80" fill="#e8201a"/>
<rect x="420.70" y="282.60" width="1.80" height="1.80" fill="#e8201a"/>
<rect x="427.90" y="282.60" width="1.80" height="1.80" fill="#e8201a"/>
<rect x="439.10" y="282.60" width="1.80" height="1.80" fill="#e8201a"/>
</g>
<clipPath id="clf"><rect x="606.80" y="264.40" width="74.30" height="43.20"/></clipPath>
<rect x="608.30" y="264.40" width="71.30" height="43.20" fill="#ffffff"/>
<line x1="610.80" y1="264.40" x2="610.80" y2="307.60" stroke="#888" stroke-width="1.3"/>
<line x1="677.10" y1="264.40" x2="677.10" y2="307.60" stroke="#888" stroke-width="1.3"/>
<g clip-path="url(#clf)">
<circle cx="625.80" cy="264.40" r="2.30" fill="none" stroke="#b0b0b0" stroke-width="1.0"/>
<circle cx="666.30" cy="266.50" r="2.30" fill="none" stroke="#b0b0b0" stroke-width="1.0"/>
<circle cx="640.60" cy="269.70" r="2.30" fill="none" stroke="#b0b0b0" stroke-width="1.0"/>
<circle cx="615.30" cy="272.00" r="2.30" fill="none" stroke="#b0b0b0" stroke-width="1.0"/>
<circle cx="655.00" cy="274.40" r="2.30" fill="none" stroke="#b0b0b0" stroke-width="1.0"/>
<circle cx="629.50" cy="277.30" r="2.30" fill="none" stroke="#b0b0b0" stroke-width="1.0"/>
<circle cx="670.40" cy="279.40" r="2.30" fill="none" stroke="#b0b0b0" stroke-width="1.0"/>
<circle cx="618.10" cy="285.80" r="2.30" fill="none" stroke="#b0b0b0" stroke-width="1.0"/>
<circle cx="643.80" cy="285.80" r="2.30" fill="none" stroke="#b0b0b0" stroke-width="1.0"/>
<circle cx="659.30" cy="286.00" r="2.30" fill="none" stroke="#b0b0b0" stroke-width="1.0"/>
<circle cx="629.50" cy="294.00" r="2.30" fill="none" stroke="#b0b0b0" stroke-width="1.0"/>
<circle cx="670.40" cy="292.20" r="2.30" fill="none" stroke="#b0b0b0" stroke-width="1.0"/>
<circle cx="615.30" cy="299.10" r="2.30" fill="none" stroke="#b0b0b0" stroke-width="1.0"/>
<circle cx="655.00" cy="297.40" r="2.30" fill="none" stroke="#b0b0b0" stroke-width="1.0"/>
<circle cx="640.60" cy="301.80" r="2.30" fill="none" stroke="#b0b0b0" stroke-width="1.0"/>
<circle cx="666.30" cy="305.00" r="2.30" fill="none" stroke="#b0b0b0" stroke-width="1.0"/>
<circle cx="625.80" cy="306.50" r="2.30" fill="none" stroke="#b0b0b0" stroke-width="1.0"/>
<circle cx="632.80" cy="266.80" r="2.60" fill="#2b50ee"/>
<circle cx="658.50" cy="264.80" r="2.60" fill="#2b50ee"/>
<circle cx="673.30" cy="270.00" r="2.60" fill="#2b50ee"/>
<circle cx="647.60" cy="272.40" r="2.60" fill="#2b50ee"/>
<circle cx="621.70" cy="274.40" r="2.60" fill="#2b50ee"/>
<circle cx="636.80" cy="279.40" r="2.60" fill="#2b50ee"/>
<circle cx="662.20" cy="277.90" r="2.60" fill="#2b50ee"/>
<circle cx="625.70" cy="286.00" r="2.60" fill="#2b50ee"/>
<circle cx="651.50" cy="286.00" r="2.60" fill="#2b50ee"/>
<circle cx="676.20" cy="286.60" r="2.60" fill="#2b50ee"/>
<circle cx="636.80" cy="292.70" r="2.60" fill="#2b50ee"/>
<circle cx="662.20" cy="294.20" r="2.60" fill="#2b50ee"/>
<circle cx="621.70" cy="297.50" r="2.60" fill="#2b50ee"/>
<circle cx="647.60" cy="299.50" r="2.60" fill="#2b50ee"/>
<circle cx="673.30" cy="302.10" r="2.60" fill="#2b50ee"/>
<circle cx="632.80" cy="305.30" r="2.60" fill="#2b50ee"/>
<circle cx="658.50" cy="307.00" r="2.60" fill="#2b50ee"/>
<rect x="656.10" y="271.60" width="1.80" height="1.80" fill="#e8201a"/>
<rect x="666.60" y="272.60" width="1.80" height="1.80" fill="#e8201a"/>
<rect x="662.10" y="275.10" width="1.80" height="1.80" fill="#e8201a"/>
<rect x="644.50" y="278.50" width="1.80" height="1.80" fill="#e8201a"/>
<rect x="652.90" y="278.20" width="1.80" height="1.80" fill="#e8201a"/>
<rect x="670.70" y="278.50" width="1.80" height="1.80" fill="#e8201a"/>
<rect x="658.80" y="285.10" width="1.80" height="1.80" fill="#e8201a"/>
<rect x="665.70" y="285.10" width="1.80" height="1.80" fill="#e8201a"/>
</g>
<clipPath id="clg"><rect x="229.30" y="447.20" width="80.20" height="37.50"/></clipPath>
<rect x="230.80" y="447.20" width="77.20" height="37.50" fill="#ffffff"/>
<line x1="233.30" y1="447.20" x2="233.30" y2="484.70" stroke="#666" stroke-width="1.0"/>
<line x1="303.30" y1="447.20" x2="303.30" y2="484.70" stroke="#666" stroke-width="0.9"/>
<line x1="305.50" y1="447.20" x2="305.50" y2="484.70" stroke="#666" stroke-width="0.9"/>
<g clip-path="url(#clg)">
<ellipse cx="236.10" cy="449.00" rx="2.6" ry="1.9" transform="rotate(-35 236.10 449.00)" fill="none" stroke="#b0b0b0" stroke-width="1.0"/>
<ellipse cx="248.80" cy="449.00" rx="2.6" ry="1.9" transform="rotate(-35 248.80 449.00)" fill="none" stroke="#b0b0b0" stroke-width="1.0"/>
<ellipse cx="261.70" cy="452.00" rx="2.6" ry="1.9" transform="rotate(-35 261.70 452.00)" fill="none" stroke="#b0b0b0" stroke-width="1.0"/>
<ellipse cx="274.90" cy="455.50" rx="2.6" ry="1.9" transform="rotate(-35 274.90 455.50)" fill="none" stroke="#b0b0b0" stroke-width="1.0"/>
<ellipse cx="288.20" cy="456.00" rx="2.6" ry="1.9" transform="rotate(-35 288.20 456.00)" fill="none" stroke="#b0b0b0" stroke-width="1.0"/>
<ellipse cx="301.20" cy="459.00" rx="2.6" ry="1.9" transform="rotate(-35 301.20 459.00)" fill="none" stroke="#b0b0b0" stroke-width="1.0"/>
<ellipse cx="241.60" cy="462.00" rx="2.6" ry="1.9" transform="rotate(-35 241.60 462.00)" fill="none" stroke="#b0b0b0" stroke-width="1.0"/>
<ellipse cx="255.00" cy="462.00" rx="2.6" ry="1.9" transform="rotate(-35 255.00 462.00)" fill="none" stroke="#b0b0b0" stroke-width="1.0"/>
<ellipse cx="268.30" cy="469.50" rx="2.6" ry="1.9" transform="rotate(-35 268.30 469.50)" fill="none" stroke="#b0b0b0" stroke-width="1.0"/>
<ellipse cx="281.60" cy="469.50" rx="2.6" ry="1.9" transform="rotate(-35 281.60 469.50)" fill="none" stroke="#b0b0b0" stroke-width="1.0"/>
<ellipse cx="294.80" cy="469.50" rx="2.6" ry="1.9" transform="rotate(-35 294.80 469.50)" fill="none" stroke="#b0b0b0" stroke-width="1.0"/>
<ellipse cx="241.60" cy="476.00" rx="2.6" ry="1.9" transform="rotate(-35 241.60 476.00)" fill="none" stroke="#b0b0b0" stroke-width="1.0"/>
<ellipse cx="255.00" cy="476.00" rx="2.6" ry="1.9" transform="rotate(-35 255.00 476.00)" fill="none" stroke="#b0b0b0" stroke-width="1.0"/>
<ellipse cx="301.80" cy="480.00" rx="2.6" ry="1.9" transform="rotate(-35 301.80 480.00)" fill="none" stroke="#b0b0b0" stroke-width="1.0"/>
<ellipse cx="274.90" cy="483.00" rx="2.6" ry="1.9" transform="rotate(-35 274.90 483.00)" fill="none" stroke="#b0b0b0" stroke-width="1.0"/>
<ellipse cx="288.20" cy="483.00" rx="2.6" ry="1.9" transform="rotate(-35 288.20 483.00)" fill="none" stroke="#b0b0b0" stroke-width="1.0"/>
<ellipse cx="271.20" cy="449.30" rx="2.8" ry="2.1" transform="rotate(-35 271.20 449.30)" fill="#2b50ee"/>
<ellipse cx="284.50" cy="449.30" rx="2.8" ry="2.1" transform="rotate(-35 284.50 449.30)" fill="#2b50ee"/>
<ellipse cx="297.20" cy="452.80" rx="2.8" ry="2.1" transform="rotate(-35 297.20 452.80)" fill="#2b50ee"/>
<ellipse cx="237.90" cy="455.90" rx="2.8" ry="2.1" transform="rotate(-35 237.90 455.90)" fill="#2b50ee"/>
<ellipse cx="251.20" cy="455.90" rx="2.8" ry="2.1" transform="rotate(-35 251.20 455.90)" fill="#2b50ee"/>
<ellipse cx="264.20" cy="459.90" rx="2.8" ry="2.1" transform="rotate(-35 264.20 459.90)" fill="#2b50ee"/>
<ellipse cx="277.40" cy="462.70" rx="2.8" ry="2.1" transform="rotate(-35 277.40 462.70)" fill="#2b50ee"/>
<ellipse cx="290.70" cy="463.30" rx="2.8" ry="2.1" transform="rotate(-35 290.70 463.30)" fill="#2b50ee"/>
<ellipse cx="244.70" cy="469.50" rx="2.8" ry="2.1" transform="rotate(-35 244.70 469.50)" fill="#2b50ee"/>
<ellipse cx="257.50" cy="469.50" rx="2.8" ry="2.1" transform="rotate(-35 257.50 469.50)" fill="#2b50ee"/>
<ellipse cx="303.40" cy="469.50" rx="2.8" ry="2.1" transform="rotate(-35 303.40 469.50)" fill="#2b50ee"/>
<ellipse cx="277.40" cy="477.00" rx="2.8" ry="2.1" transform="rotate(-35 277.40 477.00)" fill="#2b50ee"/>
<ellipse cx="290.70" cy="477.00" rx="2.8" ry="2.1" transform="rotate(-35 290.70 477.00)" fill="#2b50ee"/>
<ellipse cx="264.20" cy="479.70" rx="2.8" ry="2.1" transform="rotate(-35 264.20 479.70)" fill="#2b50ee"/>
<ellipse cx="237.90" cy="483.20" rx="2.8" ry="2.1" transform="rotate(-35 237.90 483.20)" fill="#2b50ee"/>
<ellipse cx="251.20" cy="483.20" rx="2.8" ry="2.1" transform="rotate(-35 251.20 483.20)" fill="#2b50ee"/>
<rect x="287.50" y="455.60" width="1.80" height="1.80" fill="#e8201a"/>
<rect x="293.60" y="457.90" width="1.80" height="1.80" fill="#e8201a"/>
<rect x="299.90" y="460.60" width="1.80" height="1.80" fill="#e8201a"/>
<rect x="297.10" y="464.80" width="1.80" height="1.80" fill="#e8201a"/>
<rect x="283.10" y="468.60" width="1.80" height="1.80" fill="#e8201a"/>
<rect x="294.80" y="469.10" width="1.80" height="1.80" fill="#e8201a"/>
</g>
</svg></body></html>
